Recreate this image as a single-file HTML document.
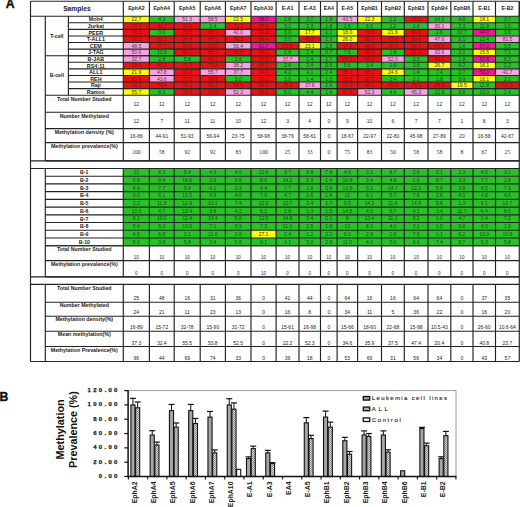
<!DOCTYPE html>
<html><head><meta charset="utf-8"><title>Figure</title>
<style>
html,body{margin:0;padding:0;background:#fff;}
body{width:520px;height:507px;overflow:hidden;font-family:"Liberation Sans", sans-serif;}
svg{display:block;}
</style></head>
<body>
<svg width="520" height="507" viewBox="0 0 520 507">
<rect x="0.00" y="0.00" width="520.00" height="507.00" fill="#ffffff" />
<text x="10.10" y="8.27" font-size="12.2" font-weight="bold" text-anchor="middle" fill="#111" font-family='"Liberation Sans", sans-serif' stroke="#111" stroke-width="0.4">A</text>
<rect x="123.30" y="16.20" width="26.10" height="6.58" fill="#fdfc12" />
<rect x="123.30" y="22.78" width="26.10" height="6.58" fill="#e61414" />
<rect x="123.30" y="29.37" width="26.10" height="6.58" fill="#e61414" />
<rect x="123.30" y="35.95" width="26.10" height="6.58" fill="#e61414" />
<rect x="123.30" y="42.53" width="26.10" height="6.58" fill="#f8a4e2" />
<rect x="123.30" y="49.12" width="26.10" height="6.58" fill="#f8a4e2" />
<rect x="123.30" y="55.70" width="26.10" height="6.58" fill="#f8a4e2" />
<rect x="123.30" y="62.28" width="26.10" height="6.58" fill="#e61414" />
<rect x="123.30" y="68.87" width="26.10" height="6.58" fill="#fdfc12" />
<rect x="123.30" y="75.45" width="26.10" height="6.58" fill="#e61414" />
<rect x="123.30" y="82.03" width="26.10" height="6.58" fill="#e61414" />
<rect x="123.30" y="88.62" width="26.10" height="6.58" fill="#fdfc12" />
<rect x="149.40" y="16.20" width="24.80" height="6.58" fill="#28c228" />
<rect x="149.40" y="22.78" width="24.80" height="6.58" fill="#e61414" />
<rect x="149.40" y="29.37" width="24.80" height="6.58" fill="#28c228" />
<rect x="149.40" y="35.95" width="24.80" height="6.58" fill="#e61414" />
<rect x="149.40" y="42.53" width="24.80" height="6.58" fill="#e61414" />
<rect x="149.40" y="49.12" width="24.80" height="6.58" fill="#28c228" />
<rect x="149.40" y="55.70" width="24.80" height="6.58" fill="#28c228" />
<rect x="149.40" y="62.28" width="24.80" height="6.58" fill="#e61414" />
<rect x="149.40" y="68.87" width="24.80" height="6.58" fill="#f8a4e2" />
<rect x="149.40" y="75.45" width="24.80" height="6.58" fill="#f8a4e2" />
<rect x="149.40" y="82.03" width="24.80" height="6.58" fill="#e61414" />
<rect x="149.40" y="88.62" width="24.80" height="6.58" fill="#28c228" />
<rect x="174.20" y="16.20" width="26.00" height="6.58" fill="#f8a4e2" />
<rect x="174.20" y="22.78" width="26.00" height="6.58" fill="#e61414" />
<rect x="174.20" y="29.37" width="26.00" height="6.58" fill="#e61414" />
<rect x="174.20" y="35.95" width="26.00" height="6.58" fill="#e61414" />
<rect x="174.20" y="42.53" width="26.00" height="6.58" fill="#e61414" />
<rect x="174.20" y="49.12" width="26.00" height="6.58" fill="#e61414" />
<rect x="174.20" y="55.70" width="26.00" height="6.58" fill="#28c228" />
<rect x="174.20" y="62.28" width="26.00" height="6.58" fill="#e61414" />
<rect x="174.20" y="68.87" width="26.00" height="6.58" fill="#e61414" />
<rect x="174.20" y="75.45" width="26.00" height="6.58" fill="#e61414" />
<rect x="174.20" y="82.03" width="26.00" height="6.58" fill="#e61414" />
<rect x="174.20" y="88.62" width="26.00" height="6.58" fill="#e61414" />
<rect x="200.20" y="16.20" width="25.20" height="6.58" fill="#f8a4e2" />
<rect x="200.20" y="22.78" width="25.20" height="6.58" fill="#28c228" />
<rect x="200.20" y="29.37" width="25.20" height="6.58" fill="#e61414" />
<rect x="200.20" y="35.95" width="25.20" height="6.58" fill="#e61414" />
<rect x="200.20" y="42.53" width="25.20" height="6.58" fill="#e61414" />
<rect x="200.20" y="49.12" width="25.20" height="6.58" fill="#e61414" />
<rect x="200.20" y="55.70" width="25.20" height="6.58" fill="#e61414" />
<rect x="200.20" y="62.28" width="25.20" height="6.58" fill="#e61414" />
<rect x="200.20" y="68.87" width="25.20" height="6.58" fill="#f8a4e2" />
<rect x="200.20" y="75.45" width="25.20" height="6.58" fill="#e61414" />
<rect x="200.20" y="82.03" width="25.20" height="6.58" fill="#e61414" />
<rect x="200.20" y="88.62" width="25.20" height="6.58" fill="#e61414" />
<rect x="225.40" y="16.20" width="25.60" height="6.58" fill="#fdfc12" />
<rect x="225.40" y="22.78" width="25.60" height="6.58" fill="#e61414" />
<rect x="225.40" y="29.37" width="25.60" height="6.58" fill="#f8a4e2" />
<rect x="225.40" y="35.95" width="25.60" height="6.58" fill="#e61414" />
<rect x="225.40" y="42.53" width="25.60" height="6.58" fill="#f8a4e2" />
<rect x="225.40" y="49.12" width="25.60" height="6.58" fill="#e61414" />
<rect x="225.40" y="55.70" width="25.60" height="6.58" fill="#28c228" />
<rect x="225.40" y="62.28" width="25.60" height="6.58" fill="#f8a4e2" />
<rect x="225.40" y="68.87" width="25.60" height="6.58" fill="#f8a4e2" />
<rect x="225.40" y="75.45" width="25.60" height="6.58" fill="#28c228" />
<rect x="225.40" y="82.03" width="25.60" height="6.58" fill="#e61414" />
<rect x="225.40" y="88.62" width="25.60" height="6.58" fill="#f8a4e2" />
<rect x="251.00" y="16.20" width="25.10" height="6.58" fill="#ee1898" />
<rect x="251.00" y="22.78" width="25.10" height="6.58" fill="#e61414" />
<rect x="251.00" y="29.37" width="25.10" height="6.58" fill="#e61414" />
<rect x="251.00" y="35.95" width="25.10" height="6.58" fill="#e61414" />
<rect x="251.00" y="42.53" width="25.10" height="6.58" fill="#ee1898" />
<rect x="251.00" y="49.12" width="25.10" height="6.58" fill="#e61414" />
<rect x="251.00" y="55.70" width="25.10" height="6.58" fill="#e61414" />
<rect x="251.00" y="62.28" width="25.10" height="6.58" fill="#e61414" />
<rect x="251.00" y="68.87" width="25.10" height="6.58" fill="#e61414" />
<rect x="251.00" y="75.45" width="25.10" height="6.58" fill="#e61414" />
<rect x="251.00" y="82.03" width="25.10" height="6.58" fill="#e61414" />
<rect x="251.00" y="88.62" width="25.10" height="6.58" fill="#e61414" />
<rect x="276.10" y="16.20" width="22.90" height="6.58" fill="#28c228" />
<rect x="276.10" y="22.78" width="22.90" height="6.58" fill="#28c228" />
<rect x="276.10" y="29.37" width="22.90" height="6.58" fill="#28c228" />
<rect x="276.10" y="35.95" width="22.90" height="6.58" fill="#28c228" />
<rect x="276.10" y="42.53" width="22.90" height="6.58" fill="#e61414" />
<rect x="276.10" y="49.12" width="22.90" height="6.58" fill="#28c228" />
<rect x="276.10" y="55.70" width="22.90" height="6.58" fill="#f8a4e2" />
<rect x="276.10" y="62.28" width="22.90" height="6.58" fill="#28c228" />
<rect x="276.10" y="68.87" width="22.90" height="6.58" fill="#28c228" />
<rect x="276.10" y="75.45" width="22.90" height="6.58" fill="#28c228" />
<rect x="276.10" y="82.03" width="22.90" height="6.58" fill="#e61414" />
<rect x="276.10" y="88.62" width="22.90" height="6.58" fill="#28c228" />
<rect x="299.00" y="16.20" width="21.50" height="6.58" fill="#28c228" />
<rect x="299.00" y="22.78" width="21.50" height="6.58" fill="#28c228" />
<rect x="299.00" y="29.37" width="21.50" height="6.58" fill="#fdfc12" />
<rect x="299.00" y="35.95" width="21.50" height="6.58" fill="#e61414" />
<rect x="299.00" y="42.53" width="21.50" height="6.58" fill="#fdfc12" />
<rect x="299.00" y="49.12" width="21.50" height="6.58" fill="#28c228" />
<rect x="299.00" y="55.70" width="21.50" height="6.58" fill="#28c228" />
<rect x="299.00" y="62.28" width="21.50" height="6.58" fill="#28c228" />
<rect x="299.00" y="68.87" width="21.50" height="6.58" fill="#28c228" />
<rect x="299.00" y="75.45" width="21.50" height="6.58" fill="#28c228" />
<rect x="299.00" y="82.03" width="21.50" height="6.58" fill="#f8a4e2" />
<rect x="299.00" y="88.62" width="21.50" height="6.58" fill="#28c228" />
<rect x="320.50" y="16.20" width="16.60" height="6.58" fill="#28c228" />
<rect x="320.50" y="22.78" width="16.60" height="6.58" fill="#28c228" />
<rect x="320.50" y="29.37" width="16.60" height="6.58" fill="#28c228" />
<rect x="320.50" y="35.95" width="16.60" height="6.58" fill="#28c228" />
<rect x="320.50" y="42.53" width="16.60" height="6.58" fill="#28c228" />
<rect x="320.50" y="49.12" width="16.60" height="6.58" fill="#28c228" />
<rect x="320.50" y="55.70" width="16.60" height="6.58" fill="#28c228" />
<rect x="320.50" y="62.28" width="16.60" height="6.58" fill="#28c228" />
<rect x="320.50" y="68.87" width="16.60" height="6.58" fill="#28c228" />
<rect x="320.50" y="75.45" width="16.60" height="6.58" fill="#28c228" />
<rect x="320.50" y="82.03" width="16.60" height="6.58" fill="#28c228" />
<rect x="320.50" y="88.62" width="16.60" height="6.58" fill="#28c228" />
<rect x="337.10" y="16.20" width="20.50" height="6.58" fill="#f8a4e2" />
<rect x="337.10" y="22.78" width="20.50" height="6.58" fill="#28c228" />
<rect x="337.10" y="29.37" width="20.50" height="6.58" fill="#fdfc12" />
<rect x="337.10" y="35.95" width="20.50" height="6.58" fill="#fdfc12" />
<rect x="337.10" y="42.53" width="20.50" height="6.58" fill="#e61414" />
<rect x="337.10" y="49.12" width="20.50" height="6.58" fill="#28c228" />
<rect x="337.10" y="55.70" width="20.50" height="6.58" fill="#e61414" />
<rect x="337.10" y="62.28" width="20.50" height="6.58" fill="#28c228" />
<rect x="337.10" y="68.87" width="20.50" height="6.58" fill="#e61414" />
<rect x="337.10" y="75.45" width="20.50" height="6.58" fill="#e61414" />
<rect x="337.10" y="82.03" width="20.50" height="6.58" fill="#e61414" />
<rect x="337.10" y="88.62" width="20.50" height="6.58" fill="#e61414" />
<rect x="357.60" y="16.20" width="23.90" height="6.58" fill="#fdfc12" />
<rect x="357.60" y="22.78" width="23.90" height="6.58" fill="#28c228" />
<rect x="357.60" y="29.37" width="23.90" height="6.58" fill="#e61414" />
<rect x="357.60" y="35.95" width="23.90" height="6.58" fill="#e61414" />
<rect x="357.60" y="42.53" width="23.90" height="6.58" fill="#e61414" />
<rect x="357.60" y="49.12" width="23.90" height="6.58" fill="#e61414" />
<rect x="357.60" y="55.70" width="23.90" height="6.58" fill="#e61414" />
<rect x="357.60" y="62.28" width="23.90" height="6.58" fill="#28c228" />
<rect x="357.60" y="68.87" width="23.90" height="6.58" fill="#e61414" />
<rect x="357.60" y="75.45" width="23.90" height="6.58" fill="#e61414" />
<rect x="357.60" y="82.03" width="23.90" height="6.58" fill="#e61414" />
<rect x="357.60" y="88.62" width="23.90" height="6.58" fill="#f8a4e2" />
<rect x="381.50" y="16.20" width="22.80" height="6.58" fill="#28c228" />
<rect x="381.50" y="22.78" width="22.80" height="6.58" fill="#28c228" />
<rect x="381.50" y="29.37" width="22.80" height="6.58" fill="#fdfc12" />
<rect x="381.50" y="35.95" width="22.80" height="6.58" fill="#e61414" />
<rect x="381.50" y="42.53" width="22.80" height="6.58" fill="#e61414" />
<rect x="381.50" y="49.12" width="22.80" height="6.58" fill="#28c228" />
<rect x="381.50" y="55.70" width="22.80" height="6.58" fill="#f8a4e2" />
<rect x="381.50" y="62.28" width="22.80" height="6.58" fill="#28c228" />
<rect x="381.50" y="68.87" width="22.80" height="6.58" fill="#fdfc12" />
<rect x="381.50" y="75.45" width="22.80" height="6.58" fill="#28c228" />
<rect x="381.50" y="82.03" width="22.80" height="6.58" fill="#e61414" />
<rect x="381.50" y="88.62" width="22.80" height="6.58" fill="#28c228" />
<rect x="404.30" y="16.20" width="23.70" height="6.58" fill="#e61414" />
<rect x="404.30" y="22.78" width="23.70" height="6.58" fill="#28c228" />
<rect x="404.30" y="29.37" width="23.70" height="6.58" fill="#e61414" />
<rect x="404.30" y="35.95" width="23.70" height="6.58" fill="#e61414" />
<rect x="404.30" y="42.53" width="23.70" height="6.58" fill="#e61414" />
<rect x="404.30" y="49.12" width="23.70" height="6.58" fill="#e61414" />
<rect x="404.30" y="55.70" width="23.70" height="6.58" fill="#28c228" />
<rect x="404.30" y="62.28" width="23.70" height="6.58" fill="#28c228" />
<rect x="404.30" y="68.87" width="23.70" height="6.58" fill="#28c228" />
<rect x="404.30" y="75.45" width="23.70" height="6.58" fill="#28c228" />
<rect x="404.30" y="82.03" width="23.70" height="6.58" fill="#e61414" />
<rect x="404.30" y="88.62" width="23.70" height="6.58" fill="#f8a4e2" />
<rect x="428.00" y="16.20" width="22.80" height="6.58" fill="#28c228" />
<rect x="428.00" y="22.78" width="22.80" height="6.58" fill="#f8a4e2" />
<rect x="428.00" y="29.37" width="22.80" height="6.58" fill="#28c228" />
<rect x="428.00" y="35.95" width="22.80" height="6.58" fill="#f8a4e2" />
<rect x="428.00" y="42.53" width="22.80" height="6.58" fill="#e61414" />
<rect x="428.00" y="49.12" width="22.80" height="6.58" fill="#f8a4e2" />
<rect x="428.00" y="55.70" width="22.80" height="6.58" fill="#e61414" />
<rect x="428.00" y="62.28" width="22.80" height="6.58" fill="#fdfc12" />
<rect x="428.00" y="68.87" width="22.80" height="6.58" fill="#28c228" />
<rect x="428.00" y="75.45" width="22.80" height="6.58" fill="#28c228" />
<rect x="428.00" y="82.03" width="22.80" height="6.58" fill="#e61414" />
<rect x="428.00" y="88.62" width="22.80" height="6.58" fill="#28c228" />
<rect x="450.80" y="16.20" width="22.20" height="6.58" fill="#28c228" />
<rect x="450.80" y="22.78" width="22.20" height="6.58" fill="#28c228" />
<rect x="450.80" y="29.37" width="22.20" height="6.58" fill="#28c228" />
<rect x="450.80" y="35.95" width="22.20" height="6.58" fill="#28c228" />
<rect x="450.80" y="42.53" width="22.20" height="6.58" fill="#28c228" />
<rect x="450.80" y="49.12" width="22.20" height="6.58" fill="#28c228" />
<rect x="450.80" y="55.70" width="22.20" height="6.58" fill="#28c228" />
<rect x="450.80" y="62.28" width="22.20" height="6.58" fill="#28c228" />
<rect x="450.80" y="68.87" width="22.20" height="6.58" fill="#28c228" />
<rect x="450.80" y="75.45" width="22.20" height="6.58" fill="#28c228" />
<rect x="450.80" y="82.03" width="22.20" height="6.58" fill="#fdfc12" />
<rect x="450.80" y="88.62" width="22.20" height="6.58" fill="#28c228" />
<rect x="473.00" y="16.20" width="22.50" height="6.58" fill="#fdfc12" />
<rect x="473.00" y="22.78" width="22.50" height="6.58" fill="#28c228" />
<rect x="473.00" y="29.37" width="22.50" height="6.58" fill="#ee1898" />
<rect x="473.00" y="35.95" width="22.50" height="6.58" fill="#28c228" />
<rect x="473.00" y="42.53" width="22.50" height="6.58" fill="#ee1898" />
<rect x="473.00" y="49.12" width="22.50" height="6.58" fill="#fdfc12" />
<rect x="473.00" y="55.70" width="22.50" height="6.58" fill="#ee1898" />
<rect x="473.00" y="62.28" width="22.50" height="6.58" fill="#fdfc12" />
<rect x="473.00" y="68.87" width="22.50" height="6.58" fill="#ee1898" />
<rect x="473.00" y="75.45" width="22.50" height="6.58" fill="#fdfc12" />
<rect x="473.00" y="82.03" width="22.50" height="6.58" fill="#28c228" />
<rect x="473.00" y="88.62" width="22.50" height="6.58" fill="#28c228" />
<rect x="495.50" y="16.20" width="23.80" height="6.58" fill="#28c228" />
<rect x="495.50" y="22.78" width="23.80" height="6.58" fill="#28c228" />
<rect x="495.50" y="29.37" width="23.80" height="6.58" fill="#28c228" />
<rect x="495.50" y="35.95" width="23.80" height="6.58" fill="#f8a4e2" />
<rect x="495.50" y="42.53" width="23.80" height="6.58" fill="#28c228" />
<rect x="495.50" y="49.12" width="23.80" height="6.58" fill="#28c228" />
<rect x="495.50" y="55.70" width="23.80" height="6.58" fill="#28c228" />
<rect x="495.50" y="62.28" width="23.80" height="6.58" fill="#28c228" />
<rect x="495.50" y="68.87" width="23.80" height="6.58" fill="#f8a4e2" />
<rect x="495.50" y="75.45" width="23.80" height="6.58" fill="#28c228" />
<rect x="495.50" y="82.03" width="23.80" height="6.58" fill="#e61414" />
<rect x="495.50" y="88.62" width="23.80" height="6.58" fill="#28c228" />
<rect x="123.30" y="168.50" width="26.10" height="7.72" fill="#28c228" />
<rect x="123.30" y="176.22" width="26.10" height="7.72" fill="#28c228" />
<rect x="123.30" y="183.94" width="26.10" height="7.72" fill="#28c228" />
<rect x="123.30" y="191.66" width="26.10" height="7.72" fill="#28c228" />
<rect x="123.30" y="199.38" width="26.10" height="7.72" fill="#28c228" />
<rect x="123.30" y="207.10" width="26.10" height="7.72" fill="#28c228" />
<rect x="123.30" y="214.82" width="26.10" height="7.72" fill="#28c228" />
<rect x="123.30" y="222.54" width="26.10" height="7.72" fill="#28c228" />
<rect x="123.30" y="230.26" width="26.10" height="7.72" fill="#28c228" />
<rect x="123.30" y="237.98" width="26.10" height="7.72" fill="#28c228" />
<rect x="149.40" y="168.50" width="24.80" height="7.72" fill="#28c228" />
<rect x="149.40" y="176.22" width="24.80" height="7.72" fill="#28c228" />
<rect x="149.40" y="183.94" width="24.80" height="7.72" fill="#28c228" />
<rect x="149.40" y="191.66" width="24.80" height="7.72" fill="#28c228" />
<rect x="149.40" y="199.38" width="24.80" height="7.72" fill="#28c228" />
<rect x="149.40" y="207.10" width="24.80" height="7.72" fill="#28c228" />
<rect x="149.40" y="214.82" width="24.80" height="7.72" fill="#28c228" />
<rect x="149.40" y="222.54" width="24.80" height="7.72" fill="#28c228" />
<rect x="149.40" y="230.26" width="24.80" height="7.72" fill="#28c228" />
<rect x="149.40" y="237.98" width="24.80" height="7.72" fill="#28c228" />
<rect x="174.20" y="168.50" width="26.00" height="7.72" fill="#28c228" />
<rect x="174.20" y="176.22" width="26.00" height="7.72" fill="#28c228" />
<rect x="174.20" y="183.94" width="26.00" height="7.72" fill="#28c228" />
<rect x="174.20" y="191.66" width="26.00" height="7.72" fill="#28c228" />
<rect x="174.20" y="199.38" width="26.00" height="7.72" fill="#28c228" />
<rect x="174.20" y="207.10" width="26.00" height="7.72" fill="#28c228" />
<rect x="174.20" y="214.82" width="26.00" height="7.72" fill="#28c228" />
<rect x="174.20" y="222.54" width="26.00" height="7.72" fill="#28c228" />
<rect x="174.20" y="230.26" width="26.00" height="7.72" fill="#28c228" />
<rect x="174.20" y="237.98" width="26.00" height="7.72" fill="#28c228" />
<rect x="200.20" y="168.50" width="25.20" height="7.72" fill="#28c228" />
<rect x="200.20" y="176.22" width="25.20" height="7.72" fill="#28c228" />
<rect x="200.20" y="183.94" width="25.20" height="7.72" fill="#28c228" />
<rect x="200.20" y="191.66" width="25.20" height="7.72" fill="#28c228" />
<rect x="200.20" y="199.38" width="25.20" height="7.72" fill="#28c228" />
<rect x="200.20" y="207.10" width="25.20" height="7.72" fill="#28c228" />
<rect x="200.20" y="214.82" width="25.20" height="7.72" fill="#28c228" />
<rect x="200.20" y="222.54" width="25.20" height="7.72" fill="#28c228" />
<rect x="200.20" y="230.26" width="25.20" height="7.72" fill="#28c228" />
<rect x="200.20" y="237.98" width="25.20" height="7.72" fill="#28c228" />
<rect x="225.40" y="168.50" width="25.60" height="7.72" fill="#28c228" />
<rect x="225.40" y="176.22" width="25.60" height="7.72" fill="#28c228" />
<rect x="225.40" y="183.94" width="25.60" height="7.72" fill="#28c228" />
<rect x="225.40" y="191.66" width="25.60" height="7.72" fill="#28c228" />
<rect x="225.40" y="199.38" width="25.60" height="7.72" fill="#28c228" />
<rect x="225.40" y="207.10" width="25.60" height="7.72" fill="#28c228" />
<rect x="225.40" y="214.82" width="25.60" height="7.72" fill="#28c228" />
<rect x="225.40" y="222.54" width="25.60" height="7.72" fill="#28c228" />
<rect x="225.40" y="230.26" width="25.60" height="7.72" fill="#28c228" />
<rect x="225.40" y="237.98" width="25.60" height="7.72" fill="#28c228" />
<rect x="251.00" y="168.50" width="25.10" height="7.72" fill="#28c228" />
<rect x="251.00" y="176.22" width="25.10" height="7.72" fill="#28c228" />
<rect x="251.00" y="183.94" width="25.10" height="7.72" fill="#28c228" />
<rect x="251.00" y="191.66" width="25.10" height="7.72" fill="#28c228" />
<rect x="251.00" y="199.38" width="25.10" height="7.72" fill="#28c228" />
<rect x="251.00" y="207.10" width="25.10" height="7.72" fill="#28c228" />
<rect x="251.00" y="214.82" width="25.10" height="7.72" fill="#28c228" />
<rect x="251.00" y="222.54" width="25.10" height="7.72" fill="#28c228" />
<rect x="251.00" y="230.26" width="25.10" height="7.72" fill="#fdfc12" />
<rect x="251.00" y="237.98" width="25.10" height="7.72" fill="#28c228" />
<rect x="276.10" y="168.50" width="22.90" height="7.72" fill="#28c228" />
<rect x="276.10" y="176.22" width="22.90" height="7.72" fill="#28c228" />
<rect x="276.10" y="183.94" width="22.90" height="7.72" fill="#28c228" />
<rect x="276.10" y="191.66" width="22.90" height="7.72" fill="#28c228" />
<rect x="276.10" y="199.38" width="22.90" height="7.72" fill="#28c228" />
<rect x="276.10" y="207.10" width="22.90" height="7.72" fill="#28c228" />
<rect x="276.10" y="214.82" width="22.90" height="7.72" fill="#28c228" />
<rect x="276.10" y="222.54" width="22.90" height="7.72" fill="#28c228" />
<rect x="276.10" y="230.26" width="22.90" height="7.72" fill="#28c228" />
<rect x="276.10" y="237.98" width="22.90" height="7.72" fill="#28c228" />
<rect x="299.00" y="168.50" width="21.50" height="7.72" fill="#28c228" />
<rect x="299.00" y="176.22" width="21.50" height="7.72" fill="#28c228" />
<rect x="299.00" y="183.94" width="21.50" height="7.72" fill="#28c228" />
<rect x="299.00" y="191.66" width="21.50" height="7.72" fill="#28c228" />
<rect x="299.00" y="199.38" width="21.50" height="7.72" fill="#28c228" />
<rect x="299.00" y="207.10" width="21.50" height="7.72" fill="#28c228" />
<rect x="299.00" y="214.82" width="21.50" height="7.72" fill="#28c228" />
<rect x="299.00" y="222.54" width="21.50" height="7.72" fill="#28c228" />
<rect x="299.00" y="230.26" width="21.50" height="7.72" fill="#28c228" />
<rect x="299.00" y="237.98" width="21.50" height="7.72" fill="#28c228" />
<rect x="320.50" y="168.50" width="16.60" height="7.72" fill="#28c228" />
<rect x="320.50" y="176.22" width="16.60" height="7.72" fill="#28c228" />
<rect x="320.50" y="183.94" width="16.60" height="7.72" fill="#28c228" />
<rect x="320.50" y="191.66" width="16.60" height="7.72" fill="#28c228" />
<rect x="320.50" y="199.38" width="16.60" height="7.72" fill="#28c228" />
<rect x="320.50" y="207.10" width="16.60" height="7.72" fill="#28c228" />
<rect x="320.50" y="214.82" width="16.60" height="7.72" fill="#28c228" />
<rect x="320.50" y="222.54" width="16.60" height="7.72" fill="#28c228" />
<rect x="320.50" y="230.26" width="16.60" height="7.72" fill="#28c228" />
<rect x="320.50" y="237.98" width="16.60" height="7.72" fill="#28c228" />
<rect x="337.10" y="168.50" width="20.50" height="7.72" fill="#28c228" />
<rect x="337.10" y="176.22" width="20.50" height="7.72" fill="#28c228" />
<rect x="337.10" y="183.94" width="20.50" height="7.72" fill="#28c228" />
<rect x="337.10" y="191.66" width="20.50" height="7.72" fill="#28c228" />
<rect x="337.10" y="199.38" width="20.50" height="7.72" fill="#28c228" />
<rect x="337.10" y="207.10" width="20.50" height="7.72" fill="#28c228" />
<rect x="337.10" y="214.82" width="20.50" height="7.72" fill="#28c228" />
<rect x="337.10" y="222.54" width="20.50" height="7.72" fill="#28c228" />
<rect x="337.10" y="230.26" width="20.50" height="7.72" fill="#28c228" />
<rect x="337.10" y="237.98" width="20.50" height="7.72" fill="#28c228" />
<rect x="357.60" y="168.50" width="23.90" height="7.72" fill="#28c228" />
<rect x="357.60" y="176.22" width="23.90" height="7.72" fill="#28c228" />
<rect x="357.60" y="183.94" width="23.90" height="7.72" fill="#28c228" />
<rect x="357.60" y="191.66" width="23.90" height="7.72" fill="#28c228" />
<rect x="357.60" y="199.38" width="23.90" height="7.72" fill="#28c228" />
<rect x="357.60" y="207.10" width="23.90" height="7.72" fill="#28c228" />
<rect x="357.60" y="214.82" width="23.90" height="7.72" fill="#28c228" />
<rect x="357.60" y="222.54" width="23.90" height="7.72" fill="#28c228" />
<rect x="357.60" y="230.26" width="23.90" height="7.72" fill="#28c228" />
<rect x="357.60" y="237.98" width="23.90" height="7.72" fill="#28c228" />
<rect x="381.50" y="168.50" width="22.80" height="7.72" fill="#28c228" />
<rect x="381.50" y="176.22" width="22.80" height="7.72" fill="#28c228" />
<rect x="381.50" y="183.94" width="22.80" height="7.72" fill="#28c228" />
<rect x="381.50" y="191.66" width="22.80" height="7.72" fill="#28c228" />
<rect x="381.50" y="199.38" width="22.80" height="7.72" fill="#28c228" />
<rect x="381.50" y="207.10" width="22.80" height="7.72" fill="#28c228" />
<rect x="381.50" y="214.82" width="22.80" height="7.72" fill="#28c228" />
<rect x="381.50" y="222.54" width="22.80" height="7.72" fill="#28c228" />
<rect x="381.50" y="230.26" width="22.80" height="7.72" fill="#28c228" />
<rect x="381.50" y="237.98" width="22.80" height="7.72" fill="#28c228" />
<rect x="404.30" y="168.50" width="23.70" height="7.72" fill="#28c228" />
<rect x="404.30" y="176.22" width="23.70" height="7.72" fill="#28c228" />
<rect x="404.30" y="183.94" width="23.70" height="7.72" fill="#28c228" />
<rect x="404.30" y="191.66" width="23.70" height="7.72" fill="#28c228" />
<rect x="404.30" y="199.38" width="23.70" height="7.72" fill="#28c228" />
<rect x="404.30" y="207.10" width="23.70" height="7.72" fill="#28c228" />
<rect x="404.30" y="214.82" width="23.70" height="7.72" fill="#28c228" />
<rect x="404.30" y="222.54" width="23.70" height="7.72" fill="#28c228" />
<rect x="404.30" y="230.26" width="23.70" height="7.72" fill="#28c228" />
<rect x="404.30" y="237.98" width="23.70" height="7.72" fill="#28c228" />
<rect x="428.00" y="168.50" width="22.80" height="7.72" fill="#28c228" />
<rect x="428.00" y="176.22" width="22.80" height="7.72" fill="#28c228" />
<rect x="428.00" y="183.94" width="22.80" height="7.72" fill="#28c228" />
<rect x="428.00" y="191.66" width="22.80" height="7.72" fill="#28c228" />
<rect x="428.00" y="199.38" width="22.80" height="7.72" fill="#28c228" />
<rect x="428.00" y="207.10" width="22.80" height="7.72" fill="#28c228" />
<rect x="428.00" y="214.82" width="22.80" height="7.72" fill="#28c228" />
<rect x="428.00" y="222.54" width="22.80" height="7.72" fill="#28c228" />
<rect x="428.00" y="230.26" width="22.80" height="7.72" fill="#28c228" />
<rect x="428.00" y="237.98" width="22.80" height="7.72" fill="#28c228" />
<rect x="450.80" y="168.50" width="22.20" height="7.72" fill="#28c228" />
<rect x="450.80" y="176.22" width="22.20" height="7.72" fill="#28c228" />
<rect x="450.80" y="183.94" width="22.20" height="7.72" fill="#28c228" />
<rect x="450.80" y="191.66" width="22.20" height="7.72" fill="#28c228" />
<rect x="450.80" y="199.38" width="22.20" height="7.72" fill="#28c228" />
<rect x="450.80" y="207.10" width="22.20" height="7.72" fill="#28c228" />
<rect x="450.80" y="214.82" width="22.20" height="7.72" fill="#28c228" />
<rect x="450.80" y="222.54" width="22.20" height="7.72" fill="#28c228" />
<rect x="450.80" y="230.26" width="22.20" height="7.72" fill="#28c228" />
<rect x="450.80" y="237.98" width="22.20" height="7.72" fill="#28c228" />
<rect x="473.00" y="168.50" width="22.50" height="7.72" fill="#28c228" />
<rect x="473.00" y="176.22" width="22.50" height="7.72" fill="#28c228" />
<rect x="473.00" y="183.94" width="22.50" height="7.72" fill="#28c228" />
<rect x="473.00" y="191.66" width="22.50" height="7.72" fill="#28c228" />
<rect x="473.00" y="199.38" width="22.50" height="7.72" fill="#28c228" />
<rect x="473.00" y="207.10" width="22.50" height="7.72" fill="#28c228" />
<rect x="473.00" y="214.82" width="22.50" height="7.72" fill="#28c228" />
<rect x="473.00" y="222.54" width="22.50" height="7.72" fill="#28c228" />
<rect x="473.00" y="230.26" width="22.50" height="7.72" fill="#28c228" />
<rect x="473.00" y="237.98" width="22.50" height="7.72" fill="#28c228" />
<rect x="495.50" y="168.50" width="23.80" height="7.72" fill="#28c228" />
<rect x="495.50" y="176.22" width="23.80" height="7.72" fill="#28c228" />
<rect x="495.50" y="183.94" width="23.80" height="7.72" fill="#28c228" />
<rect x="495.50" y="191.66" width="23.80" height="7.72" fill="#28c228" />
<rect x="495.50" y="199.38" width="23.80" height="7.72" fill="#28c228" />
<rect x="495.50" y="207.10" width="23.80" height="7.72" fill="#28c228" />
<rect x="495.50" y="214.82" width="23.80" height="7.72" fill="#28c228" />
<rect x="495.50" y="222.54" width="23.80" height="7.72" fill="#28c228" />
<rect x="495.50" y="230.26" width="23.80" height="7.72" fill="#28c228" />
<rect x="495.50" y="237.98" width="23.80" height="7.72" fill="#28c228" />
<line x1="30.50" y1="1.20" x2="519.30" y2="1.20" stroke="#222222" stroke-width="1.15"/>
<line x1="30.50" y1="1.20" x2="30.50" y2="361.50" stroke="#222222" stroke-width="1.15"/>
<line x1="519.30" y1="1.20" x2="519.30" y2="361.50" stroke="#222222" stroke-width="1.15"/>
<line x1="30.50" y1="361.50" x2="519.30" y2="361.50" stroke="#222222" stroke-width="1.15"/>
<line x1="30.50" y1="16.20" x2="519.30" y2="16.20" stroke="#222222" stroke-width="1.15"/>
<line x1="123.30" y1="1.20" x2="123.30" y2="16.20" stroke="#222222" stroke-width="1.15"/>
<line x1="149.40" y1="1.20" x2="149.40" y2="16.20" stroke="#222222" stroke-width="1.15"/>
<line x1="174.20" y1="1.20" x2="174.20" y2="16.20" stroke="#222222" stroke-width="1.15"/>
<line x1="200.20" y1="1.20" x2="200.20" y2="16.20" stroke="#222222" stroke-width="1.15"/>
<line x1="225.40" y1="1.20" x2="225.40" y2="16.20" stroke="#222222" stroke-width="1.15"/>
<line x1="251.00" y1="1.20" x2="251.00" y2="16.20" stroke="#222222" stroke-width="1.15"/>
<line x1="276.10" y1="1.20" x2="276.10" y2="16.20" stroke="#222222" stroke-width="1.15"/>
<line x1="299.00" y1="1.20" x2="299.00" y2="16.20" stroke="#222222" stroke-width="1.15"/>
<line x1="320.50" y1="1.20" x2="320.50" y2="16.20" stroke="#222222" stroke-width="1.15"/>
<line x1="337.10" y1="1.20" x2="337.10" y2="16.20" stroke="#222222" stroke-width="1.15"/>
<line x1="357.60" y1="1.20" x2="357.60" y2="16.20" stroke="#222222" stroke-width="1.15"/>
<line x1="381.50" y1="1.20" x2="381.50" y2="16.20" stroke="#222222" stroke-width="1.15"/>
<line x1="404.30" y1="1.20" x2="404.30" y2="16.20" stroke="#222222" stroke-width="1.15"/>
<line x1="428.00" y1="1.20" x2="428.00" y2="16.20" stroke="#222222" stroke-width="1.15"/>
<line x1="450.80" y1="1.20" x2="450.80" y2="16.20" stroke="#222222" stroke-width="1.15"/>
<line x1="473.00" y1="1.20" x2="473.00" y2="16.20" stroke="#222222" stroke-width="1.15"/>
<line x1="495.50" y1="1.20" x2="495.50" y2="16.20" stroke="#222222" stroke-width="1.15"/>
<line x1="519.30" y1="1.20" x2="519.30" y2="16.20" stroke="#222222" stroke-width="1.15"/>
<line x1="45.30" y1="16.20" x2="45.30" y2="160.80" stroke="#222222" stroke-width="1.15"/>
<line x1="68.40" y1="16.20" x2="68.40" y2="95.20" stroke="#222222" stroke-width="1.15"/>
<line x1="123.30" y1="16.20" x2="123.30" y2="160.80" stroke="#222222" stroke-width="1.15"/>
<line x1="149.40" y1="16.20" x2="149.40" y2="160.80" stroke="#222222" stroke-width="1.15"/>
<line x1="174.20" y1="16.20" x2="174.20" y2="160.80" stroke="#222222" stroke-width="1.15"/>
<line x1="200.20" y1="16.20" x2="200.20" y2="160.80" stroke="#222222" stroke-width="1.15"/>
<line x1="225.40" y1="16.20" x2="225.40" y2="160.80" stroke="#222222" stroke-width="1.15"/>
<line x1="251.00" y1="16.20" x2="251.00" y2="160.80" stroke="#222222" stroke-width="1.15"/>
<line x1="276.10" y1="16.20" x2="276.10" y2="160.80" stroke="#222222" stroke-width="1.15"/>
<line x1="299.00" y1="16.20" x2="299.00" y2="160.80" stroke="#222222" stroke-width="1.15"/>
<line x1="320.50" y1="16.20" x2="320.50" y2="160.80" stroke="#222222" stroke-width="1.15"/>
<line x1="337.10" y1="16.20" x2="337.10" y2="160.80" stroke="#222222" stroke-width="1.15"/>
<line x1="357.60" y1="16.20" x2="357.60" y2="160.80" stroke="#222222" stroke-width="1.15"/>
<line x1="381.50" y1="16.20" x2="381.50" y2="160.80" stroke="#222222" stroke-width="1.15"/>
<line x1="404.30" y1="16.20" x2="404.30" y2="160.80" stroke="#222222" stroke-width="1.15"/>
<line x1="428.00" y1="16.20" x2="428.00" y2="160.80" stroke="#222222" stroke-width="1.15"/>
<line x1="450.80" y1="16.20" x2="450.80" y2="160.80" stroke="#222222" stroke-width="1.15"/>
<line x1="473.00" y1="16.20" x2="473.00" y2="160.80" stroke="#222222" stroke-width="1.15"/>
<line x1="495.50" y1="16.20" x2="495.50" y2="160.80" stroke="#222222" stroke-width="1.15"/>
<line x1="68.40" y1="22.78" x2="519.30" y2="22.78" stroke="#222222" stroke-width="1.15"/>
<line x1="68.40" y1="29.37" x2="519.30" y2="29.37" stroke="#222222" stroke-width="1.15"/>
<line x1="68.40" y1="35.95" x2="519.30" y2="35.95" stroke="#222222" stroke-width="1.15"/>
<line x1="68.40" y1="42.53" x2="519.30" y2="42.53" stroke="#222222" stroke-width="1.15"/>
<line x1="68.40" y1="49.12" x2="519.30" y2="49.12" stroke="#222222" stroke-width="1.15"/>
<line x1="68.40" y1="55.70" x2="519.30" y2="55.70" stroke="#222222" stroke-width="1.15"/>
<line x1="68.40" y1="62.28" x2="519.30" y2="62.28" stroke="#222222" stroke-width="1.15"/>
<line x1="68.40" y1="68.87" x2="519.30" y2="68.87" stroke="#222222" stroke-width="1.15"/>
<line x1="68.40" y1="75.45" x2="519.30" y2="75.45" stroke="#222222" stroke-width="1.15"/>
<line x1="68.40" y1="82.03" x2="519.30" y2="82.03" stroke="#222222" stroke-width="1.15"/>
<line x1="68.40" y1="88.62" x2="519.30" y2="88.62" stroke="#222222" stroke-width="1.15"/>
<line x1="45.30" y1="55.70" x2="519.30" y2="55.70" stroke="#222222" stroke-width="1.15"/>
<line x1="45.30" y1="95.20" x2="519.30" y2="95.20" stroke="#222222" stroke-width="1.15"/>
<line x1="45.30" y1="112.20" x2="519.30" y2="112.20" stroke="#222222" stroke-width="1.15"/>
<line x1="45.30" y1="128.60" x2="519.30" y2="128.60" stroke="#222222" stroke-width="1.15"/>
<line x1="45.30" y1="142.60" x2="519.30" y2="142.60" stroke="#222222" stroke-width="1.15"/>
<line x1="45.30" y1="160.80" x2="519.30" y2="160.80" stroke="#222222" stroke-width="1.15"/>
<line x1="30.50" y1="160.80" x2="519.30" y2="160.80" stroke="#222222" stroke-width="1.15"/>
<line x1="30.50" y1="168.50" x2="519.30" y2="168.50" stroke="#222222" stroke-width="1.15"/>
<line x1="45.30" y1="168.50" x2="45.30" y2="276.80" stroke="#222222" stroke-width="1.15"/>
<line x1="123.30" y1="168.50" x2="123.30" y2="276.80" stroke="#222222" stroke-width="1.15"/>
<line x1="149.40" y1="168.50" x2="149.40" y2="276.80" stroke="#222222" stroke-width="1.15"/>
<line x1="174.20" y1="168.50" x2="174.20" y2="276.80" stroke="#222222" stroke-width="1.15"/>
<line x1="200.20" y1="168.50" x2="200.20" y2="276.80" stroke="#222222" stroke-width="1.15"/>
<line x1="225.40" y1="168.50" x2="225.40" y2="276.80" stroke="#222222" stroke-width="1.15"/>
<line x1="251.00" y1="168.50" x2="251.00" y2="276.80" stroke="#222222" stroke-width="1.15"/>
<line x1="276.10" y1="168.50" x2="276.10" y2="276.80" stroke="#222222" stroke-width="1.15"/>
<line x1="299.00" y1="168.50" x2="299.00" y2="276.80" stroke="#222222" stroke-width="1.15"/>
<line x1="320.50" y1="168.50" x2="320.50" y2="276.80" stroke="#222222" stroke-width="1.15"/>
<line x1="337.10" y1="168.50" x2="337.10" y2="276.80" stroke="#222222" stroke-width="1.15"/>
<line x1="357.60" y1="168.50" x2="357.60" y2="276.80" stroke="#222222" stroke-width="1.15"/>
<line x1="381.50" y1="168.50" x2="381.50" y2="276.80" stroke="#222222" stroke-width="1.15"/>
<line x1="404.30" y1="168.50" x2="404.30" y2="276.80" stroke="#222222" stroke-width="1.15"/>
<line x1="428.00" y1="168.50" x2="428.00" y2="276.80" stroke="#222222" stroke-width="1.15"/>
<line x1="450.80" y1="168.50" x2="450.80" y2="276.80" stroke="#222222" stroke-width="1.15"/>
<line x1="473.00" y1="168.50" x2="473.00" y2="276.80" stroke="#222222" stroke-width="1.15"/>
<line x1="495.50" y1="168.50" x2="495.50" y2="276.80" stroke="#222222" stroke-width="1.15"/>
<line x1="45.30" y1="176.22" x2="519.30" y2="176.22" stroke="#222222" stroke-width="1.15"/>
<line x1="45.30" y1="183.94" x2="519.30" y2="183.94" stroke="#222222" stroke-width="1.15"/>
<line x1="45.30" y1="191.66" x2="519.30" y2="191.66" stroke="#222222" stroke-width="1.15"/>
<line x1="45.30" y1="199.38" x2="519.30" y2="199.38" stroke="#222222" stroke-width="1.15"/>
<line x1="45.30" y1="207.10" x2="519.30" y2="207.10" stroke="#222222" stroke-width="1.15"/>
<line x1="45.30" y1="214.82" x2="519.30" y2="214.82" stroke="#222222" stroke-width="1.15"/>
<line x1="45.30" y1="222.54" x2="519.30" y2="222.54" stroke="#222222" stroke-width="1.15"/>
<line x1="45.30" y1="230.26" x2="519.30" y2="230.26" stroke="#222222" stroke-width="1.15"/>
<line x1="45.30" y1="237.98" x2="519.30" y2="237.98" stroke="#222222" stroke-width="1.15"/>
<line x1="45.30" y1="245.70" x2="519.30" y2="245.70" stroke="#222222" stroke-width="1.15"/>
<line x1="45.30" y1="245.70" x2="519.30" y2="245.70" stroke="#222222" stroke-width="1.15"/>
<line x1="45.30" y1="260.60" x2="519.30" y2="260.60" stroke="#222222" stroke-width="1.15"/>
<line x1="45.30" y1="276.80" x2="519.30" y2="276.80" stroke="#222222" stroke-width="1.15"/>
<line x1="30.50" y1="276.80" x2="519.30" y2="276.80" stroke="#222222" stroke-width="1.15"/>
<line x1="30.50" y1="284.40" x2="519.30" y2="284.40" stroke="#222222" stroke-width="1.15"/>
<line x1="45.30" y1="284.40" x2="45.30" y2="361.50" stroke="#222222" stroke-width="1.15"/>
<line x1="123.30" y1="284.40" x2="123.30" y2="361.50" stroke="#222222" stroke-width="1.15"/>
<line x1="149.40" y1="284.40" x2="149.40" y2="361.50" stroke="#222222" stroke-width="1.15"/>
<line x1="174.20" y1="284.40" x2="174.20" y2="361.50" stroke="#222222" stroke-width="1.15"/>
<line x1="200.20" y1="284.40" x2="200.20" y2="361.50" stroke="#222222" stroke-width="1.15"/>
<line x1="225.40" y1="284.40" x2="225.40" y2="361.50" stroke="#222222" stroke-width="1.15"/>
<line x1="251.00" y1="284.40" x2="251.00" y2="361.50" stroke="#222222" stroke-width="1.15"/>
<line x1="276.10" y1="284.40" x2="276.10" y2="361.50" stroke="#222222" stroke-width="1.15"/>
<line x1="299.00" y1="284.40" x2="299.00" y2="361.50" stroke="#222222" stroke-width="1.15"/>
<line x1="320.50" y1="284.40" x2="320.50" y2="361.50" stroke="#222222" stroke-width="1.15"/>
<line x1="337.10" y1="284.40" x2="337.10" y2="361.50" stroke="#222222" stroke-width="1.15"/>
<line x1="357.60" y1="284.40" x2="357.60" y2="361.50" stroke="#222222" stroke-width="1.15"/>
<line x1="381.50" y1="284.40" x2="381.50" y2="361.50" stroke="#222222" stroke-width="1.15"/>
<line x1="404.30" y1="284.40" x2="404.30" y2="361.50" stroke="#222222" stroke-width="1.15"/>
<line x1="428.00" y1="284.40" x2="428.00" y2="361.50" stroke="#222222" stroke-width="1.15"/>
<line x1="450.80" y1="284.40" x2="450.80" y2="361.50" stroke="#222222" stroke-width="1.15"/>
<line x1="473.00" y1="284.40" x2="473.00" y2="361.50" stroke="#222222" stroke-width="1.15"/>
<line x1="495.50" y1="284.40" x2="495.50" y2="361.50" stroke="#222222" stroke-width="1.15"/>
<line x1="45.30" y1="302.20" x2="519.30" y2="302.20" stroke="#222222" stroke-width="1.15"/>
<line x1="45.30" y1="316.20" x2="519.30" y2="316.20" stroke="#222222" stroke-width="1.15"/>
<line x1="45.30" y1="331.20" x2="519.30" y2="331.20" stroke="#222222" stroke-width="1.15"/>
<line x1="45.30" y1="346.50" x2="519.30" y2="346.50" stroke="#222222" stroke-width="1.15"/>
<text x="76.90" y="11.20" font-size="6.7" font-weight="bold" text-anchor="middle" fill="#1a1a1a" font-family='"Liberation Sans", sans-serif' >Samples</text>
<text x="136.35" y="10.26" font-size="5.2" font-weight="bold" text-anchor="middle" fill="#1a1a1a" font-family='"Liberation Sans", sans-serif' >EphA2</text>
<text x="161.80" y="10.26" font-size="5.2" font-weight="bold" text-anchor="middle" fill="#1a1a1a" font-family='"Liberation Sans", sans-serif' >EphA4</text>
<text x="187.20" y="10.26" font-size="5.2" font-weight="bold" text-anchor="middle" fill="#1a1a1a" font-family='"Liberation Sans", sans-serif' >EphA5</text>
<text x="212.80" y="10.26" font-size="5.2" font-weight="bold" text-anchor="middle" fill="#1a1a1a" font-family='"Liberation Sans", sans-serif' >EphA6</text>
<text x="238.20" y="10.26" font-size="5.2" font-weight="bold" text-anchor="middle" fill="#1a1a1a" font-family='"Liberation Sans", sans-serif' >EphA7</text>
<text x="263.55" y="10.26" font-size="5.2" font-weight="bold" text-anchor="middle" fill="#1a1a1a" font-family='"Liberation Sans", sans-serif' >EphA10</text>
<text x="287.55" y="10.26" font-size="5.2" font-weight="bold" text-anchor="middle" fill="#1a1a1a" font-family='"Liberation Sans", sans-serif' >E-A1</text>
<text x="309.75" y="10.26" font-size="5.2" font-weight="bold" text-anchor="middle" fill="#1a1a1a" font-family='"Liberation Sans", sans-serif' >E-A3</text>
<text x="328.80" y="10.26" font-size="5.2" font-weight="bold" text-anchor="middle" fill="#1a1a1a" font-family='"Liberation Sans", sans-serif' >EA4</text>
<text x="347.35" y="10.26" font-size="5.2" font-weight="bold" text-anchor="middle" fill="#1a1a1a" font-family='"Liberation Sans", sans-serif' >E-A5</text>
<text x="369.55" y="10.26" font-size="5.2" font-weight="bold" text-anchor="middle" fill="#1a1a1a" font-family='"Liberation Sans", sans-serif' >EphB1</text>
<text x="392.90" y="10.26" font-size="5.2" font-weight="bold" text-anchor="middle" fill="#1a1a1a" font-family='"Liberation Sans", sans-serif' >EphB2</text>
<text x="416.15" y="10.26" font-size="5.2" font-weight="bold" text-anchor="middle" fill="#1a1a1a" font-family='"Liberation Sans", sans-serif' >EphB3</text>
<text x="439.40" y="10.26" font-size="5.2" font-weight="bold" text-anchor="middle" fill="#1a1a1a" font-family='"Liberation Sans", sans-serif' >EphB4</text>
<text x="461.90" y="10.26" font-size="5.2" font-weight="bold" text-anchor="middle" fill="#1a1a1a" font-family='"Liberation Sans", sans-serif' >EphB6</text>
<text x="484.25" y="10.26" font-size="5.2" font-weight="bold" text-anchor="middle" fill="#1a1a1a" font-family='"Liberation Sans", sans-serif' >E-B1</text>
<text x="507.40" y="10.26" font-size="5.2" font-weight="bold" text-anchor="middle" fill="#1a1a1a" font-family='"Liberation Sans", sans-serif' >E-B2</text>
<text x="95.85" y="21.42" font-size="5.4" font-weight="bold" text-anchor="middle" fill="#1a1a1a" font-family='"Liberation Sans", sans-serif' >Moh4</text>
<text x="95.85" y="28.01" font-size="5.4" font-weight="bold" text-anchor="middle" fill="#1a1a1a" font-family='"Liberation Sans", sans-serif' >Jurkat</text>
<text x="95.85" y="34.59" font-size="5.4" font-weight="bold" text-anchor="middle" fill="#1a1a1a" font-family='"Liberation Sans", sans-serif' >PEER</text>
<text x="95.85" y="41.17" font-size="5.4" font-weight="bold" text-anchor="middle" fill="#1a1a1a" font-family='"Liberation Sans", sans-serif' >T-ALL1</text>
<text x="95.85" y="47.76" font-size="5.4" font-weight="bold" text-anchor="middle" fill="#1a1a1a" font-family='"Liberation Sans", sans-serif' >CEM</text>
<text x="95.85" y="54.34" font-size="5.4" font-weight="bold" text-anchor="middle" fill="#1a1a1a" font-family='"Liberation Sans", sans-serif' >J-TAG</text>
<text x="95.85" y="60.92" font-size="5.4" font-weight="bold" text-anchor="middle" fill="#1a1a1a" font-family='"Liberation Sans", sans-serif' >B-JAB</text>
<text x="95.85" y="67.51" font-size="5.4" font-weight="bold" text-anchor="middle" fill="#1a1a1a" font-family='"Liberation Sans", sans-serif' >RS4:11</text>
<text x="95.85" y="74.09" font-size="5.4" font-weight="bold" text-anchor="middle" fill="#1a1a1a" font-family='"Liberation Sans", sans-serif' >ALL1</text>
<text x="95.85" y="80.67" font-size="5.4" font-weight="bold" text-anchor="middle" fill="#1a1a1a" font-family='"Liberation Sans", sans-serif' >REH</text>
<text x="95.85" y="87.26" font-size="5.4" font-weight="bold" text-anchor="middle" fill="#1a1a1a" font-family='"Liberation Sans", sans-serif' >Raji</text>
<text x="95.85" y="93.84" font-size="5.4" font-weight="bold" text-anchor="middle" fill="#1a1a1a" font-family='"Liberation Sans", sans-serif' >Ramos</text>
<text x="56.85" y="37.81" font-size="5.2" font-weight="bold" text-anchor="middle" fill="#1a1a1a" font-family='"Liberation Sans", sans-serif' >T-cell</text>
<text x="56.85" y="77.31" font-size="5.2" font-weight="bold" text-anchor="middle" fill="#1a1a1a" font-family='"Liberation Sans", sans-serif' >B-cell</text>
<text x="136.35" y="21.28" font-size="5.0" font-weight="normal" text-anchor="middle" fill="#3a3a00" font-family='"Liberation Sans", sans-serif' >22.7</text>
<text x="136.35" y="27.86" font-size="5.0" font-weight="normal" text-anchor="middle" fill="#a80404" font-family='"Liberation Sans", sans-serif' >77.4</text>
<text x="136.35" y="34.45" font-size="5.0" font-weight="normal" text-anchor="middle" fill="#a80404" font-family='"Liberation Sans", sans-serif' >71.2</text>
<text x="136.35" y="41.03" font-size="5.0" font-weight="normal" text-anchor="middle" fill="#a80404" font-family='"Liberation Sans", sans-serif' >80.3</text>
<text x="136.35" y="47.61" font-size="5.0" font-weight="normal" text-anchor="middle" fill="#50304a" font-family='"Liberation Sans", sans-serif' >48.5</text>
<text x="136.35" y="54.20" font-size="5.0" font-weight="normal" text-anchor="middle" fill="#50304a" font-family='"Liberation Sans", sans-serif' >50.6</text>
<text x="136.35" y="60.78" font-size="5.0" font-weight="normal" text-anchor="middle" fill="#50304a" font-family='"Liberation Sans", sans-serif' >32.7</text>
<text x="136.35" y="67.36" font-size="5.0" font-weight="normal" text-anchor="middle" fill="#a80404" font-family='"Liberation Sans", sans-serif' >76.5</text>
<text x="136.35" y="73.95" font-size="5.0" font-weight="normal" text-anchor="middle" fill="#3a3a00" font-family='"Liberation Sans", sans-serif' >21.9</text>
<text x="136.35" y="80.53" font-size="5.0" font-weight="normal" text-anchor="middle" fill="#a80404" font-family='"Liberation Sans", sans-serif' >82.4</text>
<text x="136.35" y="87.12" font-size="5.0" font-weight="normal" text-anchor="middle" fill="#a80404" font-family='"Liberation Sans", sans-serif' >85.1</text>
<text x="136.35" y="93.70" font-size="5.0" font-weight="normal" text-anchor="middle" fill="#3a3a00" font-family='"Liberation Sans", sans-serif' >55.7</text>
<text x="161.80" y="21.28" font-size="5.0" font-weight="normal" text-anchor="middle" fill="#0a500a" font-family='"Liberation Sans", sans-serif' >4.3</text>
<text x="161.80" y="27.86" font-size="5.0" font-weight="normal" text-anchor="middle" fill="#a80404" font-family='"Liberation Sans", sans-serif' >90.7</text>
<text x="161.80" y="34.45" font-size="5.0" font-weight="normal" text-anchor="middle" fill="#0a500a" font-family='"Liberation Sans", sans-serif' >3.0</text>
<text x="161.80" y="41.03" font-size="5.0" font-weight="normal" text-anchor="middle" fill="#a80404" font-family='"Liberation Sans", sans-serif' >80.3</text>
<text x="161.80" y="47.61" font-size="5.0" font-weight="normal" text-anchor="middle" fill="#a80404" font-family='"Liberation Sans", sans-serif' >77.7</text>
<text x="161.80" y="54.20" font-size="5.0" font-weight="normal" text-anchor="middle" fill="#0a500a" font-family='"Liberation Sans", sans-serif' >12.9</text>
<text x="161.80" y="60.78" font-size="5.0" font-weight="normal" text-anchor="middle" fill="#0a500a" font-family='"Liberation Sans", sans-serif' >2.8</text>
<text x="161.80" y="67.36" font-size="5.0" font-weight="normal" text-anchor="middle" fill="#a80404" font-family='"Liberation Sans", sans-serif' >86.3</text>
<text x="161.80" y="73.95" font-size="5.0" font-weight="normal" text-anchor="middle" fill="#50304a" font-family='"Liberation Sans", sans-serif' >47.8</text>
<text x="161.80" y="80.53" font-size="5.0" font-weight="normal" text-anchor="middle" fill="#50304a" font-family='"Liberation Sans", sans-serif' >43.8</text>
<text x="161.80" y="87.12" font-size="5.0" font-weight="normal" text-anchor="middle" fill="#a80404" font-family='"Liberation Sans", sans-serif' >72.4</text>
<text x="161.80" y="93.70" font-size="5.0" font-weight="normal" text-anchor="middle" fill="#0a500a" font-family='"Liberation Sans", sans-serif' >8.0</text>
<text x="187.20" y="21.28" font-size="5.0" font-weight="normal" text-anchor="middle" fill="#50304a" font-family='"Liberation Sans", sans-serif' >51.3</text>
<text x="187.20" y="27.86" font-size="5.0" font-weight="normal" text-anchor="middle" fill="#a80404" font-family='"Liberation Sans", sans-serif' >60.5</text>
<text x="187.20" y="34.45" font-size="5.0" font-weight="normal" text-anchor="middle" fill="#a80404" font-family='"Liberation Sans", sans-serif' >73.5</text>
<text x="187.20" y="41.03" font-size="5.0" font-weight="normal" text-anchor="middle" fill="#a80404" font-family='"Liberation Sans", sans-serif' >84.8</text>
<text x="187.20" y="47.61" font-size="5.0" font-weight="normal" text-anchor="middle" fill="#a80404" font-family='"Liberation Sans", sans-serif' >82.4</text>
<text x="187.20" y="54.20" font-size="5.0" font-weight="normal" text-anchor="middle" fill="#a80404" font-family='"Liberation Sans", sans-serif' >80.1</text>
<text x="187.20" y="60.78" font-size="5.0" font-weight="normal" text-anchor="middle" fill="#0a500a" font-family='"Liberation Sans", sans-serif' >5.8</text>
<text x="187.20" y="67.36" font-size="5.0" font-weight="normal" text-anchor="middle" fill="#a80404" font-family='"Liberation Sans", sans-serif' >71.5</text>
<text x="187.20" y="73.95" font-size="5.0" font-weight="normal" text-anchor="middle" fill="#a80404" font-family='"Liberation Sans", sans-serif' >84.3</text>
<text x="187.20" y="80.53" font-size="5.0" font-weight="normal" text-anchor="middle" fill="#a80404" font-family='"Liberation Sans", sans-serif' >77.5</text>
<text x="187.20" y="87.12" font-size="5.0" font-weight="normal" text-anchor="middle" fill="#a80404" font-family='"Liberation Sans", sans-serif' >72.3</text>
<text x="187.20" y="93.70" font-size="5.0" font-weight="normal" text-anchor="middle" fill="#a80404" font-family='"Liberation Sans", sans-serif' >71.9</text>
<text x="212.80" y="21.28" font-size="5.0" font-weight="normal" text-anchor="middle" fill="#50304a" font-family='"Liberation Sans", sans-serif' >58.5</text>
<text x="212.80" y="27.86" font-size="5.0" font-weight="normal" text-anchor="middle" fill="#0a500a" font-family='"Liberation Sans", sans-serif' >3.4</text>
<text x="212.80" y="34.45" font-size="5.0" font-weight="normal" text-anchor="middle" fill="#a80404" font-family='"Liberation Sans", sans-serif' >85.1</text>
<text x="212.80" y="41.03" font-size="5.0" font-weight="normal" text-anchor="middle" fill="#a80404" font-family='"Liberation Sans", sans-serif' >88.5</text>
<text x="212.80" y="47.61" font-size="5.0" font-weight="normal" text-anchor="middle" fill="#a80404" font-family='"Liberation Sans", sans-serif' >83.5</text>
<text x="212.80" y="54.20" font-size="5.0" font-weight="normal" text-anchor="middle" fill="#a80404" font-family='"Liberation Sans", sans-serif' >85.3</text>
<text x="212.80" y="60.78" font-size="5.0" font-weight="normal" text-anchor="middle" fill="#a80404" font-family='"Liberation Sans", sans-serif' >84.1</text>
<text x="212.80" y="67.36" font-size="5.0" font-weight="normal" text-anchor="middle" fill="#a80404" font-family='"Liberation Sans", sans-serif' >79.3</text>
<text x="212.80" y="73.95" font-size="5.0" font-weight="normal" text-anchor="middle" fill="#50304a" font-family='"Liberation Sans", sans-serif' >55.7</text>
<text x="212.80" y="80.53" font-size="5.0" font-weight="normal" text-anchor="middle" fill="#a80404" font-family='"Liberation Sans", sans-serif' >80.5</text>
<text x="212.80" y="87.12" font-size="5.0" font-weight="normal" text-anchor="middle" fill="#a80404" font-family='"Liberation Sans", sans-serif' >86.1</text>
<text x="212.80" y="93.70" font-size="5.0" font-weight="normal" text-anchor="middle" fill="#a80404" font-family='"Liberation Sans", sans-serif' >79.5</text>
<text x="238.20" y="21.28" font-size="5.0" font-weight="normal" text-anchor="middle" fill="#3a3a00" font-family='"Liberation Sans", sans-serif' >22.5</text>
<text x="238.20" y="27.86" font-size="5.0" font-weight="normal" text-anchor="middle" fill="#a80404" font-family='"Liberation Sans", sans-serif' >71.2</text>
<text x="238.20" y="34.45" font-size="5.0" font-weight="normal" text-anchor="middle" fill="#50304a" font-family='"Liberation Sans", sans-serif' >42.0</text>
<text x="238.20" y="41.03" font-size="5.0" font-weight="normal" text-anchor="middle" fill="#a80404" font-family='"Liberation Sans", sans-serif' >70.5</text>
<text x="238.20" y="47.61" font-size="5.0" font-weight="normal" text-anchor="middle" fill="#50304a" font-family='"Liberation Sans", sans-serif' >56.4</text>
<text x="238.20" y="54.20" font-size="5.0" font-weight="normal" text-anchor="middle" fill="#a80404" font-family='"Liberation Sans", sans-serif' >69.8</text>
<text x="238.20" y="60.78" font-size="5.0" font-weight="normal" text-anchor="middle" fill="#0a500a" font-family='"Liberation Sans", sans-serif' >1.6</text>
<text x="238.20" y="67.36" font-size="5.0" font-weight="normal" text-anchor="middle" fill="#50304a" font-family='"Liberation Sans", sans-serif' >38.2</text>
<text x="238.20" y="73.95" font-size="5.0" font-weight="normal" text-anchor="middle" fill="#50304a" font-family='"Liberation Sans", sans-serif' >37.7</text>
<text x="238.20" y="80.53" font-size="5.0" font-weight="normal" text-anchor="middle" fill="#0a500a" font-family='"Liberation Sans", sans-serif' >3.0</text>
<text x="238.20" y="87.12" font-size="5.0" font-weight="normal" text-anchor="middle" fill="#a80404" font-family='"Liberation Sans", sans-serif' >64.5</text>
<text x="238.20" y="93.70" font-size="5.0" font-weight="normal" text-anchor="middle" fill="#50304a" font-family='"Liberation Sans", sans-serif' >52.2</text>
<text x="263.55" y="21.28" font-size="5.0" font-weight="normal" text-anchor="middle" fill="#700040" font-family='"Liberation Sans", sans-serif' >98.0</text>
<text x="263.55" y="27.86" font-size="5.0" font-weight="normal" text-anchor="middle" fill="#a80404" font-family='"Liberation Sans", sans-serif' >88.6</text>
<text x="263.55" y="34.45" font-size="5.0" font-weight="normal" text-anchor="middle" fill="#a80404" font-family='"Liberation Sans", sans-serif' >91.3</text>
<text x="263.55" y="41.03" font-size="5.0" font-weight="normal" text-anchor="middle" fill="#a80404" font-family='"Liberation Sans", sans-serif' >88.4</text>
<text x="263.55" y="47.61" font-size="5.0" font-weight="normal" text-anchor="middle" fill="#700040" font-family='"Liberation Sans", sans-serif' >92.7</text>
<text x="263.55" y="54.20" font-size="5.0" font-weight="normal" text-anchor="middle" fill="#a80404" font-family='"Liberation Sans", sans-serif' >89.1</text>
<text x="263.55" y="60.78" font-size="5.0" font-weight="normal" text-anchor="middle" fill="#a80404" font-family='"Liberation Sans", sans-serif' >90.1</text>
<text x="263.55" y="67.36" font-size="5.0" font-weight="normal" text-anchor="middle" fill="#a80404" font-family='"Liberation Sans", sans-serif' >86.2</text>
<text x="263.55" y="73.95" font-size="5.0" font-weight="normal" text-anchor="middle" fill="#a80404" font-family='"Liberation Sans", sans-serif' >84.4</text>
<text x="263.55" y="80.53" font-size="5.0" font-weight="normal" text-anchor="middle" fill="#a80404" font-family='"Liberation Sans", sans-serif' >90.1</text>
<text x="263.55" y="87.12" font-size="5.0" font-weight="normal" text-anchor="middle" fill="#a80404" font-family='"Liberation Sans", sans-serif' >94.3</text>
<text x="263.55" y="93.70" font-size="5.0" font-weight="normal" text-anchor="middle" fill="#a80404" font-family='"Liberation Sans", sans-serif' >90.6</text>
<text x="287.55" y="21.28" font-size="5.0" font-weight="normal" text-anchor="middle" fill="#0a500a" font-family='"Liberation Sans", sans-serif' >2.8</text>
<text x="287.55" y="27.86" font-size="5.0" font-weight="normal" text-anchor="middle" fill="#0a500a" font-family='"Liberation Sans", sans-serif' >3.2</text>
<text x="287.55" y="34.45" font-size="5.0" font-weight="normal" text-anchor="middle" fill="#0a500a" font-family='"Liberation Sans", sans-serif' >3.0</text>
<text x="287.55" y="41.03" font-size="5.0" font-weight="normal" text-anchor="middle" fill="#0a500a" font-family='"Liberation Sans", sans-serif' >3.0</text>
<text x="287.55" y="47.61" font-size="5.0" font-weight="normal" text-anchor="middle" fill="#a80404" font-family='"Liberation Sans", sans-serif' >71.6</text>
<text x="287.55" y="54.20" font-size="5.0" font-weight="normal" text-anchor="middle" fill="#0a500a" font-family='"Liberation Sans", sans-serif' >2.8</text>
<text x="287.55" y="60.78" font-size="5.0" font-weight="normal" text-anchor="middle" fill="#50304a" font-family='"Liberation Sans", sans-serif' >37.7</text>
<text x="287.55" y="67.36" font-size="5.0" font-weight="normal" text-anchor="middle" fill="#0a500a" font-family='"Liberation Sans", sans-serif' >2.8</text>
<text x="287.55" y="73.95" font-size="5.0" font-weight="normal" text-anchor="middle" fill="#0a500a" font-family='"Liberation Sans", sans-serif' >4.2</text>
<text x="287.55" y="80.53" font-size="5.0" font-weight="normal" text-anchor="middle" fill="#0a500a" font-family='"Liberation Sans", sans-serif' >3.0</text>
<text x="287.55" y="87.12" font-size="5.0" font-weight="normal" text-anchor="middle" fill="#a80404" font-family='"Liberation Sans", sans-serif' >75.3</text>
<text x="287.55" y="93.70" font-size="5.0" font-weight="normal" text-anchor="middle" fill="#0a500a" font-family='"Liberation Sans", sans-serif' >5.0</text>
<text x="309.75" y="21.28" font-size="5.0" font-weight="normal" text-anchor="middle" fill="#0a500a" font-family='"Liberation Sans", sans-serif' >3.7</text>
<text x="309.75" y="27.86" font-size="5.0" font-weight="normal" text-anchor="middle" fill="#0a500a" font-family='"Liberation Sans", sans-serif' >2.3</text>
<text x="309.75" y="34.45" font-size="5.0" font-weight="normal" text-anchor="middle" fill="#3a3a00" font-family='"Liberation Sans", sans-serif' >17.7</text>
<text x="309.75" y="41.03" font-size="5.0" font-weight="normal" text-anchor="middle" fill="#a80404" font-family='"Liberation Sans", sans-serif' >60.5</text>
<text x="309.75" y="47.61" font-size="5.0" font-weight="normal" text-anchor="middle" fill="#3a3a00" font-family='"Liberation Sans", sans-serif' >23.1</text>
<text x="309.75" y="54.20" font-size="5.0" font-weight="normal" text-anchor="middle" fill="#0a500a" font-family='"Liberation Sans", sans-serif' >1.4</text>
<text x="309.75" y="60.78" font-size="5.0" font-weight="normal" text-anchor="middle" fill="#0a500a" font-family='"Liberation Sans", sans-serif' >1.4</text>
<text x="309.75" y="67.36" font-size="5.0" font-weight="normal" text-anchor="middle" fill="#0a500a" font-family='"Liberation Sans", sans-serif' >2.4</text>
<text x="309.75" y="73.95" font-size="5.0" font-weight="normal" text-anchor="middle" fill="#0a500a" font-family='"Liberation Sans", sans-serif' >4.1</text>
<text x="309.75" y="80.53" font-size="5.0" font-weight="normal" text-anchor="middle" fill="#0a500a" font-family='"Liberation Sans", sans-serif' >1.4</text>
<text x="309.75" y="87.12" font-size="5.0" font-weight="normal" text-anchor="middle" fill="#50304a" font-family='"Liberation Sans", sans-serif' >37.6</text>
<text x="309.75" y="93.70" font-size="5.0" font-weight="normal" text-anchor="middle" fill="#0a500a" font-family='"Liberation Sans", sans-serif' >4.4</text>
<text x="328.80" y="21.28" font-size="5.0" font-weight="normal" text-anchor="middle" fill="#0a500a" font-family='"Liberation Sans", sans-serif' >1.8</text>
<text x="328.80" y="27.86" font-size="5.0" font-weight="normal" text-anchor="middle" fill="#0a500a" font-family='"Liberation Sans", sans-serif' >1.8</text>
<text x="328.80" y="34.45" font-size="5.0" font-weight="normal" text-anchor="middle" fill="#0a500a" font-family='"Liberation Sans", sans-serif' >1.1</text>
<text x="328.80" y="41.03" font-size="5.0" font-weight="normal" text-anchor="middle" fill="#0a500a" font-family='"Liberation Sans", sans-serif' >1.3</text>
<text x="328.80" y="47.61" font-size="5.0" font-weight="normal" text-anchor="middle" fill="#0a500a" font-family='"Liberation Sans", sans-serif' >2.5</text>
<text x="328.80" y="54.20" font-size="5.0" font-weight="normal" text-anchor="middle" fill="#0a500a" font-family='"Liberation Sans", sans-serif' >0.7</text>
<text x="328.80" y="60.78" font-size="5.0" font-weight="normal" text-anchor="middle" fill="#0a500a" font-family='"Liberation Sans", sans-serif' >1.7</text>
<text x="328.80" y="67.36" font-size="5.0" font-weight="normal" text-anchor="middle" fill="#0a500a" font-family='"Liberation Sans", sans-serif' >2.6</text>
<text x="328.80" y="73.95" font-size="5.0" font-weight="normal" text-anchor="middle" fill="#0a500a" font-family='"Liberation Sans", sans-serif' >2.4</text>
<text x="328.80" y="80.53" font-size="5.0" font-weight="normal" text-anchor="middle" fill="#0a500a" font-family='"Liberation Sans", sans-serif' >1.5</text>
<text x="328.80" y="87.12" font-size="5.0" font-weight="normal" text-anchor="middle" fill="#0a500a" font-family='"Liberation Sans", sans-serif' >1.6</text>
<text x="328.80" y="93.70" font-size="5.0" font-weight="normal" text-anchor="middle" fill="#0a500a" font-family='"Liberation Sans", sans-serif' >1.4</text>
<text x="347.35" y="21.28" font-size="5.0" font-weight="normal" text-anchor="middle" fill="#50304a" font-family='"Liberation Sans", sans-serif' >43.5</text>
<text x="347.35" y="27.86" font-size="5.0" font-weight="normal" text-anchor="middle" fill="#0a500a" font-family='"Liberation Sans", sans-serif' >2.6</text>
<text x="347.35" y="34.45" font-size="5.0" font-weight="normal" text-anchor="middle" fill="#3a3a00" font-family='"Liberation Sans", sans-serif' >18.0</text>
<text x="347.35" y="41.03" font-size="5.0" font-weight="normal" text-anchor="middle" fill="#3a3a00" font-family='"Liberation Sans", sans-serif' >26.0</text>
<text x="347.35" y="47.61" font-size="5.0" font-weight="normal" text-anchor="middle" fill="#a80404" font-family='"Liberation Sans", sans-serif' >57.6</text>
<text x="347.35" y="54.20" font-size="5.0" font-weight="normal" text-anchor="middle" fill="#0a500a" font-family='"Liberation Sans", sans-serif' >7.6</text>
<text x="347.35" y="60.78" font-size="5.0" font-weight="normal" text-anchor="middle" fill="#a80404" font-family='"Liberation Sans", sans-serif' >63.0</text>
<text x="347.35" y="67.36" font-size="5.0" font-weight="normal" text-anchor="middle" fill="#0a500a" font-family='"Liberation Sans", sans-serif' >5.6</text>
<text x="347.35" y="73.95" font-size="5.0" font-weight="normal" text-anchor="middle" fill="#a80404" font-family='"Liberation Sans", sans-serif' >65.1</text>
<text x="347.35" y="80.53" font-size="5.0" font-weight="normal" text-anchor="middle" fill="#a80404" font-family='"Liberation Sans", sans-serif' >65.5</text>
<text x="347.35" y="87.12" font-size="5.0" font-weight="normal" text-anchor="middle" fill="#a80404" font-family='"Liberation Sans", sans-serif' >52.0</text>
<text x="347.35" y="93.70" font-size="5.0" font-weight="normal" text-anchor="middle" fill="#a80404" font-family='"Liberation Sans", sans-serif' >67.5</text>
<text x="369.55" y="21.28" font-size="5.0" font-weight="normal" text-anchor="middle" fill="#3a3a00" font-family='"Liberation Sans", sans-serif' >22.3</text>
<text x="369.55" y="27.86" font-size="5.0" font-weight="normal" text-anchor="middle" fill="#0a500a" font-family='"Liberation Sans", sans-serif' >6.0</text>
<text x="369.55" y="34.45" font-size="5.0" font-weight="normal" text-anchor="middle" fill="#a80404" font-family='"Liberation Sans", sans-serif' >78.5</text>
<text x="369.55" y="41.03" font-size="5.0" font-weight="normal" text-anchor="middle" fill="#a80404" font-family='"Liberation Sans", sans-serif' >82.4</text>
<text x="369.55" y="47.61" font-size="5.0" font-weight="normal" text-anchor="middle" fill="#a80404" font-family='"Liberation Sans", sans-serif' >86.5</text>
<text x="369.55" y="54.20" font-size="5.0" font-weight="normal" text-anchor="middle" fill="#a80404" font-family='"Liberation Sans", sans-serif' >80.3</text>
<text x="369.55" y="60.78" font-size="5.0" font-weight="normal" text-anchor="middle" fill="#a80404" font-family='"Liberation Sans", sans-serif' >85.5</text>
<text x="369.55" y="67.36" font-size="5.0" font-weight="normal" text-anchor="middle" fill="#0a500a" font-family='"Liberation Sans", sans-serif' >3.4</text>
<text x="369.55" y="73.95" font-size="5.0" font-weight="normal" text-anchor="middle" fill="#a80404" font-family='"Liberation Sans", sans-serif' >85.1</text>
<text x="369.55" y="80.53" font-size="5.0" font-weight="normal" text-anchor="middle" fill="#a80404" font-family='"Liberation Sans", sans-serif' >87.6</text>
<text x="369.55" y="87.12" font-size="5.0" font-weight="normal" text-anchor="middle" fill="#a80404" font-family='"Liberation Sans", sans-serif' >86.1</text>
<text x="369.55" y="93.70" font-size="5.0" font-weight="normal" text-anchor="middle" fill="#50304a" font-family='"Liberation Sans", sans-serif' >52.3</text>
<text x="392.90" y="21.28" font-size="5.0" font-weight="normal" text-anchor="middle" fill="#0a500a" font-family='"Liberation Sans", sans-serif' >1.2</text>
<text x="392.90" y="27.86" font-size="5.0" font-weight="normal" text-anchor="middle" fill="#0a500a" font-family='"Liberation Sans", sans-serif' >1.2</text>
<text x="392.90" y="34.45" font-size="5.0" font-weight="normal" text-anchor="middle" fill="#3a3a00" font-family='"Liberation Sans", sans-serif' >21.6</text>
<text x="392.90" y="41.03" font-size="5.0" font-weight="normal" text-anchor="middle" fill="#a80404" font-family='"Liberation Sans", sans-serif' >72.6</text>
<text x="392.90" y="47.61" font-size="5.0" font-weight="normal" text-anchor="middle" fill="#a80404" font-family='"Liberation Sans", sans-serif' >70.5</text>
<text x="392.90" y="54.20" font-size="5.0" font-weight="normal" text-anchor="middle" fill="#0a500a" font-family='"Liberation Sans", sans-serif' >1.8</text>
<text x="392.90" y="60.78" font-size="5.0" font-weight="normal" text-anchor="middle" fill="#50304a" font-family='"Liberation Sans", sans-serif' >52.0</text>
<text x="392.90" y="67.36" font-size="5.0" font-weight="normal" text-anchor="middle" fill="#0a500a" font-family='"Liberation Sans", sans-serif' >1.6</text>
<text x="392.90" y="73.95" font-size="5.0" font-weight="normal" text-anchor="middle" fill="#3a3a00" font-family='"Liberation Sans", sans-serif' >24.6</text>
<text x="392.90" y="80.53" font-size="5.0" font-weight="normal" text-anchor="middle" fill="#0a500a" font-family='"Liberation Sans", sans-serif' >2.4</text>
<text x="392.90" y="87.12" font-size="5.0" font-weight="normal" text-anchor="middle" fill="#a80404" font-family='"Liberation Sans", sans-serif' >80.3</text>
<text x="392.90" y="93.70" font-size="5.0" font-weight="normal" text-anchor="middle" fill="#0a500a" font-family='"Liberation Sans", sans-serif' >4.4</text>
<text x="416.15" y="21.28" font-size="5.0" font-weight="normal" text-anchor="middle" fill="#a80404" font-family='"Liberation Sans", sans-serif' >81.8</text>
<text x="416.15" y="27.86" font-size="5.0" font-weight="normal" text-anchor="middle" fill="#0a500a" font-family='"Liberation Sans", sans-serif' >1.4</text>
<text x="416.15" y="34.45" font-size="5.0" font-weight="normal" text-anchor="middle" fill="#a80404" font-family='"Liberation Sans", sans-serif' >83.5</text>
<text x="416.15" y="41.03" font-size="5.0" font-weight="normal" text-anchor="middle" fill="#a80404" font-family='"Liberation Sans", sans-serif' >80.6</text>
<text x="416.15" y="47.61" font-size="5.0" font-weight="normal" text-anchor="middle" fill="#a80404" font-family='"Liberation Sans", sans-serif' >80.6</text>
<text x="416.15" y="54.20" font-size="5.0" font-weight="normal" text-anchor="middle" fill="#a80404" font-family='"Liberation Sans", sans-serif' >81.3</text>
<text x="416.15" y="60.78" font-size="5.0" font-weight="normal" text-anchor="middle" fill="#0a500a" font-family='"Liberation Sans", sans-serif' >2.3</text>
<text x="416.15" y="67.36" font-size="5.0" font-weight="normal" text-anchor="middle" fill="#0a500a" font-family='"Liberation Sans", sans-serif' >3.6</text>
<text x="416.15" y="73.95" font-size="5.0" font-weight="normal" text-anchor="middle" fill="#0a500a" font-family='"Liberation Sans", sans-serif' >1.4</text>
<text x="416.15" y="80.53" font-size="5.0" font-weight="normal" text-anchor="middle" fill="#0a500a" font-family='"Liberation Sans", sans-serif' >2.1</text>
<text x="416.15" y="87.12" font-size="5.0" font-weight="normal" text-anchor="middle" fill="#a80404" font-family='"Liberation Sans", sans-serif' >78.8</text>
<text x="416.15" y="93.70" font-size="5.0" font-weight="normal" text-anchor="middle" fill="#50304a" font-family='"Liberation Sans", sans-serif' >45.3</text>
<text x="439.40" y="21.28" font-size="5.0" font-weight="normal" text-anchor="middle" fill="#0a500a" font-family='"Liberation Sans", sans-serif' >14.2</text>
<text x="439.40" y="27.86" font-size="5.0" font-weight="normal" text-anchor="middle" fill="#50304a" font-family='"Liberation Sans", sans-serif' >30.1</text>
<text x="439.40" y="34.45" font-size="5.0" font-weight="normal" text-anchor="middle" fill="#0a500a" font-family='"Liberation Sans", sans-serif' >2.6</text>
<text x="439.40" y="41.03" font-size="5.0" font-weight="normal" text-anchor="middle" fill="#50304a" font-family='"Liberation Sans", sans-serif' >47.6</text>
<text x="439.40" y="47.61" font-size="5.0" font-weight="normal" text-anchor="middle" fill="#a80404" font-family='"Liberation Sans", sans-serif' >80.5</text>
<text x="439.40" y="54.20" font-size="5.0" font-weight="normal" text-anchor="middle" fill="#50304a" font-family='"Liberation Sans", sans-serif' >32.6</text>
<text x="439.40" y="60.78" font-size="5.0" font-weight="normal" text-anchor="middle" fill="#a80404" font-family='"Liberation Sans", sans-serif' >80.1</text>
<text x="439.40" y="67.36" font-size="5.0" font-weight="normal" text-anchor="middle" fill="#3a3a00" font-family='"Liberation Sans", sans-serif' >26.7</text>
<text x="439.40" y="73.95" font-size="5.0" font-weight="normal" text-anchor="middle" fill="#0a500a" font-family='"Liberation Sans", sans-serif' >7.4</text>
<text x="439.40" y="80.53" font-size="5.0" font-weight="normal" text-anchor="middle" fill="#0a500a" font-family='"Liberation Sans", sans-serif' >1.8</text>
<text x="439.40" y="87.12" font-size="5.0" font-weight="normal" text-anchor="middle" fill="#a80404" font-family='"Liberation Sans", sans-serif' >88.8</text>
<text x="439.40" y="93.70" font-size="5.0" font-weight="normal" text-anchor="middle" fill="#0a500a" font-family='"Liberation Sans", sans-serif' >12.8</text>
<text x="461.90" y="21.28" font-size="5.0" font-weight="normal" text-anchor="middle" fill="#0a500a" font-family='"Liberation Sans", sans-serif' >4.8</text>
<text x="461.90" y="27.86" font-size="5.0" font-weight="normal" text-anchor="middle" fill="#0a500a" font-family='"Liberation Sans", sans-serif' >2.3</text>
<text x="461.90" y="34.45" font-size="5.0" font-weight="normal" text-anchor="middle" fill="#0a500a" font-family='"Liberation Sans", sans-serif' >10.7</text>
<text x="461.90" y="41.03" font-size="5.0" font-weight="normal" text-anchor="middle" fill="#0a500a" font-family='"Liberation Sans", sans-serif' >6.1</text>
<text x="461.90" y="47.61" font-size="5.0" font-weight="normal" text-anchor="middle" fill="#0a500a" font-family='"Liberation Sans", sans-serif' >1.6</text>
<text x="461.90" y="54.20" font-size="5.0" font-weight="normal" text-anchor="middle" fill="#0a500a" font-family='"Liberation Sans", sans-serif' >3.2</text>
<text x="461.90" y="60.78" font-size="5.0" font-weight="normal" text-anchor="middle" fill="#0a500a" font-family='"Liberation Sans", sans-serif' >1.8</text>
<text x="461.90" y="67.36" font-size="5.0" font-weight="normal" text-anchor="middle" fill="#0a500a" font-family='"Liberation Sans", sans-serif' >6.2</text>
<text x="461.90" y="73.95" font-size="5.0" font-weight="normal" text-anchor="middle" fill="#0a500a" font-family='"Liberation Sans", sans-serif' >2.7</text>
<text x="461.90" y="80.53" font-size="5.0" font-weight="normal" text-anchor="middle" fill="#0a500a" font-family='"Liberation Sans", sans-serif' >5.9</text>
<text x="461.90" y="87.12" font-size="5.0" font-weight="normal" text-anchor="middle" fill="#3a3a00" font-family='"Liberation Sans", sans-serif' >19.5</text>
<text x="461.90" y="93.70" font-size="5.0" font-weight="normal" text-anchor="middle" fill="#0a500a" font-family='"Liberation Sans", sans-serif' >8.8</text>
<text x="484.25" y="21.28" font-size="5.0" font-weight="normal" text-anchor="middle" fill="#3a3a00" font-family='"Liberation Sans", sans-serif' >18.1</text>
<text x="484.25" y="27.86" font-size="5.0" font-weight="normal" text-anchor="middle" fill="#0a500a" font-family='"Liberation Sans", sans-serif' >11.8</text>
<text x="484.25" y="34.45" font-size="5.0" font-weight="normal" text-anchor="middle" fill="#700040" font-family='"Liberation Sans", sans-serif' >44.2</text>
<text x="484.25" y="41.03" font-size="5.0" font-weight="normal" text-anchor="middle" fill="#0a500a" font-family='"Liberation Sans", sans-serif' >12.4</text>
<text x="484.25" y="47.61" font-size="5.0" font-weight="normal" text-anchor="middle" fill="#700040" font-family='"Liberation Sans", sans-serif' >57.2</text>
<text x="484.25" y="54.20" font-size="5.0" font-weight="normal" text-anchor="middle" fill="#3a3a00" font-family='"Liberation Sans", sans-serif' >15.5</text>
<text x="484.25" y="60.78" font-size="5.0" font-weight="normal" text-anchor="middle" fill="#700040" font-family='"Liberation Sans", sans-serif' >57.6</text>
<text x="484.25" y="67.36" font-size="5.0" font-weight="normal" text-anchor="middle" fill="#3a3a00" font-family='"Liberation Sans", sans-serif' >16.1</text>
<text x="484.25" y="73.95" font-size="5.0" font-weight="normal" text-anchor="middle" fill="#700040" font-family='"Liberation Sans", sans-serif' >50.0</text>
<text x="484.25" y="80.53" font-size="5.0" font-weight="normal" text-anchor="middle" fill="#3a3a00" font-family='"Liberation Sans", sans-serif' >16.1</text>
<text x="484.25" y="87.12" font-size="5.0" font-weight="normal" text-anchor="middle" fill="#0a500a" font-family='"Liberation Sans", sans-serif' >11.8</text>
<text x="484.25" y="93.70" font-size="5.0" font-weight="normal" text-anchor="middle" fill="#0a500a" font-family='"Liberation Sans", sans-serif' >10.0</text>
<text x="507.40" y="21.28" font-size="5.0" font-weight="normal" text-anchor="middle" fill="#0a500a" font-family='"Liberation Sans", sans-serif' >3.7</text>
<text x="507.40" y="27.86" font-size="5.0" font-weight="normal" text-anchor="middle" fill="#0a500a" font-family='"Liberation Sans", sans-serif' >1.0</text>
<text x="507.40" y="34.45" font-size="5.0" font-weight="normal" text-anchor="middle" fill="#0a500a" font-family='"Liberation Sans", sans-serif' >3.6</text>
<text x="507.40" y="41.03" font-size="5.0" font-weight="normal" text-anchor="middle" fill="#50304a" font-family='"Liberation Sans", sans-serif' >81.5</text>
<text x="507.40" y="47.61" font-size="5.0" font-weight="normal" text-anchor="middle" fill="#0a500a" font-family='"Liberation Sans", sans-serif' >5.5</text>
<text x="507.40" y="54.20" font-size="5.0" font-weight="normal" text-anchor="middle" fill="#0a500a" font-family='"Liberation Sans", sans-serif' >7.1</text>
<text x="507.40" y="60.78" font-size="5.0" font-weight="normal" text-anchor="middle" fill="#0a500a" font-family='"Liberation Sans", sans-serif' >8.3</text>
<text x="507.40" y="67.36" font-size="5.0" font-weight="normal" text-anchor="middle" fill="#0a500a" font-family='"Liberation Sans", sans-serif' >2.2</text>
<text x="507.40" y="73.95" font-size="5.0" font-weight="normal" text-anchor="middle" fill="#50304a" font-family='"Liberation Sans", sans-serif' >41.7</text>
<text x="507.40" y="80.53" font-size="5.0" font-weight="normal" text-anchor="middle" fill="#0a500a" font-family='"Liberation Sans", sans-serif' >2.1</text>
<text x="507.40" y="87.12" font-size="5.0" font-weight="normal" text-anchor="middle" fill="#a80404" font-family='"Liberation Sans", sans-serif' >60.5</text>
<text x="507.40" y="93.70" font-size="5.0" font-weight="normal" text-anchor="middle" fill="#0a500a" font-family='"Liberation Sans", sans-serif' >2.4</text>
<text x="84.30" y="100.70" font-size="5.3" font-weight="bold" text-anchor="middle" fill="#1a1a1a" font-family='"Liberation Sans", sans-serif' >Total Number Studied</text>
<text x="136.35" y="105.89" font-size="5.0" font-weight="normal" text-anchor="middle" fill="#2a2a2a" font-family='"Liberation Sans", sans-serif' >12</text>
<text x="161.80" y="105.89" font-size="5.0" font-weight="normal" text-anchor="middle" fill="#2a2a2a" font-family='"Liberation Sans", sans-serif' >12</text>
<text x="187.20" y="105.89" font-size="5.0" font-weight="normal" text-anchor="middle" fill="#2a2a2a" font-family='"Liberation Sans", sans-serif' >12</text>
<text x="212.80" y="105.89" font-size="5.0" font-weight="normal" text-anchor="middle" fill="#2a2a2a" font-family='"Liberation Sans", sans-serif' >12</text>
<text x="238.20" y="105.89" font-size="5.0" font-weight="normal" text-anchor="middle" fill="#2a2a2a" font-family='"Liberation Sans", sans-serif' >12</text>
<text x="263.55" y="105.89" font-size="5.0" font-weight="normal" text-anchor="middle" fill="#2a2a2a" font-family='"Liberation Sans", sans-serif' >12</text>
<text x="287.55" y="105.89" font-size="5.0" font-weight="normal" text-anchor="middle" fill="#2a2a2a" font-family='"Liberation Sans", sans-serif' >12</text>
<text x="309.75" y="105.89" font-size="5.0" font-weight="normal" text-anchor="middle" fill="#2a2a2a" font-family='"Liberation Sans", sans-serif' >12</text>
<text x="328.80" y="105.89" font-size="5.0" font-weight="normal" text-anchor="middle" fill="#2a2a2a" font-family='"Liberation Sans", sans-serif' >12</text>
<text x="347.35" y="105.89" font-size="5.0" font-weight="normal" text-anchor="middle" fill="#2a2a2a" font-family='"Liberation Sans", sans-serif' >12</text>
<text x="369.55" y="105.89" font-size="5.0" font-weight="normal" text-anchor="middle" fill="#2a2a2a" font-family='"Liberation Sans", sans-serif' >12</text>
<text x="392.90" y="105.89" font-size="5.0" font-weight="normal" text-anchor="middle" fill="#2a2a2a" font-family='"Liberation Sans", sans-serif' >12</text>
<text x="416.15" y="105.89" font-size="5.0" font-weight="normal" text-anchor="middle" fill="#2a2a2a" font-family='"Liberation Sans", sans-serif' >12</text>
<text x="439.40" y="105.89" font-size="5.0" font-weight="normal" text-anchor="middle" fill="#2a2a2a" font-family='"Liberation Sans", sans-serif' >12</text>
<text x="461.90" y="105.89" font-size="5.0" font-weight="normal" text-anchor="middle" fill="#2a2a2a" font-family='"Liberation Sans", sans-serif' >12</text>
<text x="484.25" y="105.89" font-size="5.0" font-weight="normal" text-anchor="middle" fill="#2a2a2a" font-family='"Liberation Sans", sans-serif' >12</text>
<text x="507.40" y="105.89" font-size="5.0" font-weight="normal" text-anchor="middle" fill="#2a2a2a" font-family='"Liberation Sans", sans-serif' >12</text>
<text x="84.30" y="117.70" font-size="5.3" font-weight="bold" text-anchor="middle" fill="#1a1a1a" font-family='"Liberation Sans", sans-serif' >Number Methylated</text>
<text x="136.35" y="122.59" font-size="5.0" font-weight="normal" text-anchor="middle" fill="#2a2a2a" font-family='"Liberation Sans", sans-serif' >12</text>
<text x="161.80" y="122.59" font-size="5.0" font-weight="normal" text-anchor="middle" fill="#2a2a2a" font-family='"Liberation Sans", sans-serif' >7</text>
<text x="187.20" y="122.59" font-size="5.0" font-weight="normal" text-anchor="middle" fill="#2a2a2a" font-family='"Liberation Sans", sans-serif' >11</text>
<text x="212.80" y="122.59" font-size="5.0" font-weight="normal" text-anchor="middle" fill="#2a2a2a" font-family='"Liberation Sans", sans-serif' >11</text>
<text x="238.20" y="122.59" font-size="5.0" font-weight="normal" text-anchor="middle" fill="#2a2a2a" font-family='"Liberation Sans", sans-serif' >10</text>
<text x="263.55" y="122.59" font-size="5.0" font-weight="normal" text-anchor="middle" fill="#2a2a2a" font-family='"Liberation Sans", sans-serif' >12</text>
<text x="287.55" y="122.59" font-size="5.0" font-weight="normal" text-anchor="middle" fill="#2a2a2a" font-family='"Liberation Sans", sans-serif' >3</text>
<text x="309.75" y="122.59" font-size="5.0" font-weight="normal" text-anchor="middle" fill="#2a2a2a" font-family='"Liberation Sans", sans-serif' >4</text>
<text x="328.80" y="122.59" font-size="5.0" font-weight="normal" text-anchor="middle" fill="#2a2a2a" font-family='"Liberation Sans", sans-serif' >0</text>
<text x="347.35" y="122.59" font-size="5.0" font-weight="normal" text-anchor="middle" fill="#2a2a2a" font-family='"Liberation Sans", sans-serif' >9</text>
<text x="369.55" y="122.59" font-size="5.0" font-weight="normal" text-anchor="middle" fill="#2a2a2a" font-family='"Liberation Sans", sans-serif' >10</text>
<text x="392.90" y="122.59" font-size="5.0" font-weight="normal" text-anchor="middle" fill="#2a2a2a" font-family='"Liberation Sans", sans-serif' >6</text>
<text x="416.15" y="122.59" font-size="5.0" font-weight="normal" text-anchor="middle" fill="#2a2a2a" font-family='"Liberation Sans", sans-serif' >7</text>
<text x="439.40" y="122.59" font-size="5.0" font-weight="normal" text-anchor="middle" fill="#2a2a2a" font-family='"Liberation Sans", sans-serif' >7</text>
<text x="461.90" y="122.59" font-size="5.0" font-weight="normal" text-anchor="middle" fill="#2a2a2a" font-family='"Liberation Sans", sans-serif' >1</text>
<text x="484.25" y="122.59" font-size="5.0" font-weight="normal" text-anchor="middle" fill="#2a2a2a" font-family='"Liberation Sans", sans-serif' >8</text>
<text x="507.40" y="122.59" font-size="5.0" font-weight="normal" text-anchor="middle" fill="#2a2a2a" font-family='"Liberation Sans", sans-serif' >3</text>
<text x="84.30" y="134.10" font-size="5.3" font-weight="bold" text-anchor="middle" fill="#1a1a1a" font-family='"Liberation Sans", sans-serif' >Methylation density (%)</text>
<text x="136.35" y="137.79" font-size="5.0" font-weight="normal" text-anchor="middle" fill="#2a2a2a" font-family='"Liberation Sans", sans-serif' >16-86</text>
<text x="161.80" y="137.79" font-size="5.0" font-weight="normal" text-anchor="middle" fill="#2a2a2a" font-family='"Liberation Sans", sans-serif' >44-91</text>
<text x="187.20" y="137.79" font-size="5.0" font-weight="normal" text-anchor="middle" fill="#2a2a2a" font-family='"Liberation Sans", sans-serif' >51-93</text>
<text x="212.80" y="137.79" font-size="5.0" font-weight="normal" text-anchor="middle" fill="#2a2a2a" font-family='"Liberation Sans", sans-serif' >56-94</text>
<text x="238.20" y="137.79" font-size="5.0" font-weight="normal" text-anchor="middle" fill="#2a2a2a" font-family='"Liberation Sans", sans-serif' >23-75</text>
<text x="263.55" y="137.79" font-size="5.0" font-weight="normal" text-anchor="middle" fill="#2a2a2a" font-family='"Liberation Sans", sans-serif' >58-98</text>
<text x="287.55" y="137.79" font-size="5.0" font-weight="normal" text-anchor="middle" fill="#2a2a2a" font-family='"Liberation Sans", sans-serif' >38-76</text>
<text x="309.75" y="137.79" font-size="5.0" font-weight="normal" text-anchor="middle" fill="#2a2a2a" font-family='"Liberation Sans", sans-serif' >58-61</text>
<text x="328.80" y="137.79" font-size="5.0" font-weight="normal" text-anchor="middle" fill="#2a2a2a" font-family='"Liberation Sans", sans-serif' >0</text>
<text x="347.35" y="137.79" font-size="5.0" font-weight="normal" text-anchor="middle" fill="#2a2a2a" font-family='"Liberation Sans", sans-serif' >18-67</text>
<text x="369.55" y="137.79" font-size="5.0" font-weight="normal" text-anchor="middle" fill="#2a2a2a" font-family='"Liberation Sans", sans-serif' >22-97</text>
<text x="392.90" y="137.79" font-size="5.0" font-weight="normal" text-anchor="middle" fill="#2a2a2a" font-family='"Liberation Sans", sans-serif' >22-80</text>
<text x="416.15" y="137.79" font-size="5.0" font-weight="normal" text-anchor="middle" fill="#2a2a2a" font-family='"Liberation Sans", sans-serif' >45-98</text>
<text x="439.40" y="137.79" font-size="5.0" font-weight="normal" text-anchor="middle" fill="#2a2a2a" font-family='"Liberation Sans", sans-serif' >27-89</text>
<text x="461.90" y="137.79" font-size="5.0" font-weight="normal" text-anchor="middle" fill="#2a2a2a" font-family='"Liberation Sans", sans-serif' >20</text>
<text x="484.25" y="137.79" font-size="5.0" font-weight="normal" text-anchor="middle" fill="#2a2a2a" font-family='"Liberation Sans", sans-serif' >16-58</text>
<text x="507.40" y="137.79" font-size="5.0" font-weight="normal" text-anchor="middle" fill="#2a2a2a" font-family='"Liberation Sans", sans-serif' >42-67</text>
<text x="84.30" y="148.10" font-size="5.3" font-weight="bold" text-anchor="middle" fill="#1a1a1a" font-family='"Liberation Sans", sans-serif' >Methylation prevalence(%)</text>
<text x="136.35" y="154.10" font-size="5.6" font-weight="normal" text-anchor="middle" fill="#2a2a2a" font-family='"Liberation Serif", serif' >100</text>
<text x="161.80" y="154.10" font-size="5.6" font-weight="normal" text-anchor="middle" fill="#2a2a2a" font-family='"Liberation Serif", serif' >58</text>
<text x="187.20" y="154.10" font-size="5.6" font-weight="normal" text-anchor="middle" fill="#2a2a2a" font-family='"Liberation Serif", serif' >92</text>
<text x="212.80" y="154.10" font-size="5.6" font-weight="normal" text-anchor="middle" fill="#2a2a2a" font-family='"Liberation Serif", serif' >92</text>
<text x="238.20" y="154.10" font-size="5.6" font-weight="normal" text-anchor="middle" fill="#2a2a2a" font-family='"Liberation Serif", serif' >83</text>
<text x="263.55" y="154.10" font-size="5.6" font-weight="normal" text-anchor="middle" fill="#2a2a2a" font-family='"Liberation Serif", serif' >100</text>
<text x="287.55" y="154.10" font-size="5.6" font-weight="normal" text-anchor="middle" fill="#2a2a2a" font-family='"Liberation Serif", serif' >25</text>
<text x="309.75" y="154.10" font-size="5.6" font-weight="normal" text-anchor="middle" fill="#2a2a2a" font-family='"Liberation Serif", serif' >33</text>
<text x="328.80" y="154.10" font-size="5.6" font-weight="normal" text-anchor="middle" fill="#2a2a2a" font-family='"Liberation Serif", serif' >0</text>
<text x="347.35" y="154.10" font-size="5.6" font-weight="normal" text-anchor="middle" fill="#2a2a2a" font-family='"Liberation Serif", serif' >75</text>
<text x="369.55" y="154.10" font-size="5.6" font-weight="normal" text-anchor="middle" fill="#2a2a2a" font-family='"Liberation Serif", serif' >83</text>
<text x="392.90" y="154.10" font-size="5.6" font-weight="normal" text-anchor="middle" fill="#2a2a2a" font-family='"Liberation Serif", serif' >50</text>
<text x="416.15" y="154.10" font-size="5.6" font-weight="normal" text-anchor="middle" fill="#2a2a2a" font-family='"Liberation Serif", serif' >58</text>
<text x="439.40" y="154.10" font-size="5.6" font-weight="normal" text-anchor="middle" fill="#2a2a2a" font-family='"Liberation Serif", serif' >58</text>
<text x="461.90" y="154.10" font-size="5.6" font-weight="normal" text-anchor="middle" fill="#2a2a2a" font-family='"Liberation Serif", serif' >8</text>
<text x="484.25" y="154.10" font-size="5.6" font-weight="normal" text-anchor="middle" fill="#2a2a2a" font-family='"Liberation Serif", serif' >67</text>
<text x="507.40" y="154.10" font-size="5.6" font-weight="normal" text-anchor="middle" fill="#2a2a2a" font-family='"Liberation Serif", serif' >25</text>
<text x="84.30" y="174.22" font-size="5.2" font-weight="bold" text-anchor="middle" fill="#1a1a1a" font-family='"Liberation Sans", sans-serif' >B-1</text>
<text x="136.35" y="174.15" font-size="5.0" font-weight="normal" text-anchor="middle" fill="#0a500a" font-family='"Liberation Sans", sans-serif' >11</text>
<text x="161.80" y="174.15" font-size="5.0" font-weight="normal" text-anchor="middle" fill="#0a500a" font-family='"Liberation Sans", sans-serif' >8.2</text>
<text x="187.20" y="174.15" font-size="5.0" font-weight="normal" text-anchor="middle" fill="#0a500a" font-family='"Liberation Sans", sans-serif' >5.4</text>
<text x="212.80" y="174.15" font-size="5.0" font-weight="normal" text-anchor="middle" fill="#0a500a" font-family='"Liberation Sans", sans-serif' >4.3</text>
<text x="238.20" y="174.15" font-size="5.0" font-weight="normal" text-anchor="middle" fill="#0a500a" font-family='"Liberation Sans", sans-serif' >4.0</text>
<text x="263.55" y="174.15" font-size="5.0" font-weight="normal" text-anchor="middle" fill="#0a500a" font-family='"Liberation Sans", sans-serif' >12.6</text>
<text x="287.55" y="174.15" font-size="5.0" font-weight="normal" text-anchor="middle" fill="#0a500a" font-family='"Liberation Sans", sans-serif' >3.7</text>
<text x="309.75" y="174.15" font-size="5.0" font-weight="normal" text-anchor="middle" fill="#0a500a" font-family='"Liberation Sans", sans-serif' >8.8</text>
<text x="328.80" y="174.15" font-size="5.0" font-weight="normal" text-anchor="middle" fill="#0a500a" font-family='"Liberation Sans", sans-serif' >7.8</text>
<text x="347.35" y="174.15" font-size="5.0" font-weight="normal" text-anchor="middle" fill="#0a500a" font-family='"Liberation Sans", sans-serif' >4.9</text>
<text x="369.55" y="174.15" font-size="5.0" font-weight="normal" text-anchor="middle" fill="#0a500a" font-family='"Liberation Sans", sans-serif' >3.3</text>
<text x="392.90" y="174.15" font-size="5.0" font-weight="normal" text-anchor="middle" fill="#0a500a" font-family='"Liberation Sans", sans-serif' >8.7</text>
<text x="416.15" y="174.15" font-size="5.0" font-weight="normal" text-anchor="middle" fill="#0a500a" font-family='"Liberation Sans", sans-serif' >2.6</text>
<text x="439.40" y="174.15" font-size="5.0" font-weight="normal" text-anchor="middle" fill="#0a500a" font-family='"Liberation Sans", sans-serif' >2.1</text>
<text x="461.90" y="174.15" font-size="5.0" font-weight="normal" text-anchor="middle" fill="#0a500a" font-family='"Liberation Sans", sans-serif' >2.3</text>
<text x="484.25" y="174.15" font-size="5.0" font-weight="normal" text-anchor="middle" fill="#0a500a" font-family='"Liberation Sans", sans-serif' >4.5</text>
<text x="507.40" y="174.15" font-size="5.0" font-weight="normal" text-anchor="middle" fill="#0a500a" font-family='"Liberation Sans", sans-serif' >3.1</text>
<text x="84.30" y="181.94" font-size="5.2" font-weight="bold" text-anchor="middle" fill="#1a1a1a" font-family='"Liberation Sans", sans-serif' >B-2</text>
<text x="136.35" y="181.87" font-size="5.0" font-weight="normal" text-anchor="middle" fill="#0a500a" font-family='"Liberation Sans", sans-serif' >5.8</text>
<text x="161.80" y="181.87" font-size="5.0" font-weight="normal" text-anchor="middle" fill="#0a500a" font-family='"Liberation Sans", sans-serif' >8.4</text>
<text x="187.20" y="181.87" font-size="5.0" font-weight="normal" text-anchor="middle" fill="#0a500a" font-family='"Liberation Sans", sans-serif' >14.6</text>
<text x="212.80" y="181.87" font-size="5.0" font-weight="normal" text-anchor="middle" fill="#0a500a" font-family='"Liberation Sans", sans-serif' >2.9</text>
<text x="238.20" y="181.87" font-size="5.0" font-weight="normal" text-anchor="middle" fill="#0a500a" font-family='"Liberation Sans", sans-serif' >5.6</text>
<text x="263.55" y="181.87" font-size="5.0" font-weight="normal" text-anchor="middle" fill="#0a500a" font-family='"Liberation Sans", sans-serif' >8.5</text>
<text x="287.55" y="181.87" font-size="5.0" font-weight="normal" text-anchor="middle" fill="#0a500a" font-family='"Liberation Sans", sans-serif' >14.2</text>
<text x="309.75" y="181.87" font-size="5.0" font-weight="normal" text-anchor="middle" fill="#0a500a" font-family='"Liberation Sans", sans-serif' >5.9</text>
<text x="328.80" y="181.87" font-size="5.0" font-weight="normal" text-anchor="middle" fill="#0a500a" font-family='"Liberation Sans", sans-serif' >1.4</text>
<text x="347.35" y="181.87" font-size="5.0" font-weight="normal" text-anchor="middle" fill="#0a500a" font-family='"Liberation Sans", sans-serif' >10.8</text>
<text x="369.55" y="181.87" font-size="5.0" font-weight="normal" text-anchor="middle" fill="#0a500a" font-family='"Liberation Sans", sans-serif' >3.4</text>
<text x="392.90" y="181.87" font-size="5.0" font-weight="normal" text-anchor="middle" fill="#0a500a" font-family='"Liberation Sans", sans-serif' >4.8</text>
<text x="416.15" y="181.87" font-size="5.0" font-weight="normal" text-anchor="middle" fill="#0a500a" font-family='"Liberation Sans", sans-serif' >1.6</text>
<text x="439.40" y="181.87" font-size="5.0" font-weight="normal" text-anchor="middle" fill="#0a500a" font-family='"Liberation Sans", sans-serif' >8.7</text>
<text x="461.90" y="181.87" font-size="5.0" font-weight="normal" text-anchor="middle" fill="#0a500a" font-family='"Liberation Sans", sans-serif' >3.3</text>
<text x="484.25" y="181.87" font-size="5.0" font-weight="normal" text-anchor="middle" fill="#0a500a" font-family='"Liberation Sans", sans-serif' >7.7</text>
<text x="507.40" y="181.87" font-size="5.0" font-weight="normal" text-anchor="middle" fill="#0a500a" font-family='"Liberation Sans", sans-serif' >2.8</text>
<text x="84.30" y="189.66" font-size="5.2" font-weight="bold" text-anchor="middle" fill="#1a1a1a" font-family='"Liberation Sans", sans-serif' >B-3</text>
<text x="136.35" y="189.59" font-size="5.0" font-weight="normal" text-anchor="middle" fill="#0a500a" font-family='"Liberation Sans", sans-serif' >4.4</text>
<text x="161.80" y="189.59" font-size="5.0" font-weight="normal" text-anchor="middle" fill="#0a500a" font-family='"Liberation Sans", sans-serif' >7.7</text>
<text x="187.20" y="189.59" font-size="5.0" font-weight="normal" text-anchor="middle" fill="#0a500a" font-family='"Liberation Sans", sans-serif' >5.4</text>
<text x="212.80" y="189.59" font-size="5.0" font-weight="normal" text-anchor="middle" fill="#0a500a" font-family='"Liberation Sans", sans-serif' >4.1</text>
<text x="238.20" y="189.59" font-size="5.0" font-weight="normal" text-anchor="middle" fill="#0a500a" font-family='"Liberation Sans", sans-serif' >3.3</text>
<text x="263.55" y="189.59" font-size="5.0" font-weight="normal" text-anchor="middle" fill="#0a500a" font-family='"Liberation Sans", sans-serif' >9.4</text>
<text x="287.55" y="189.59" font-size="5.0" font-weight="normal" text-anchor="middle" fill="#0a500a" font-family='"Liberation Sans", sans-serif' >7.7</text>
<text x="309.75" y="189.59" font-size="5.0" font-weight="normal" text-anchor="middle" fill="#0a500a" font-family='"Liberation Sans", sans-serif' >1.6</text>
<text x="328.80" y="189.59" font-size="5.0" font-weight="normal" text-anchor="middle" fill="#0a500a" font-family='"Liberation Sans", sans-serif' >2.8</text>
<text x="347.35" y="189.59" font-size="5.0" font-weight="normal" text-anchor="middle" fill="#0a500a" font-family='"Liberation Sans", sans-serif' >13.5</text>
<text x="369.55" y="189.59" font-size="5.0" font-weight="normal" text-anchor="middle" fill="#0a500a" font-family='"Liberation Sans", sans-serif' >5.1</text>
<text x="392.90" y="189.59" font-size="5.0" font-weight="normal" text-anchor="middle" fill="#0a500a" font-family='"Liberation Sans", sans-serif' >14.7</text>
<text x="416.15" y="189.59" font-size="5.0" font-weight="normal" text-anchor="middle" fill="#0a500a" font-family='"Liberation Sans", sans-serif' >12.2</text>
<text x="439.40" y="189.59" font-size="5.0" font-weight="normal" text-anchor="middle" fill="#0a500a" font-family='"Liberation Sans", sans-serif' >5.8</text>
<text x="461.90" y="189.59" font-size="5.0" font-weight="normal" text-anchor="middle" fill="#0a500a" font-family='"Liberation Sans", sans-serif' >3.8</text>
<text x="484.25" y="189.59" font-size="5.0" font-weight="normal" text-anchor="middle" fill="#0a500a" font-family='"Liberation Sans", sans-serif' >6.5</text>
<text x="507.40" y="189.59" font-size="5.0" font-weight="normal" text-anchor="middle" fill="#0a500a" font-family='"Liberation Sans", sans-serif' >7.3</text>
<text x="84.30" y="197.38" font-size="5.2" font-weight="bold" text-anchor="middle" fill="#1a1a1a" font-family='"Liberation Sans", sans-serif' >B-4</text>
<text x="136.35" y="197.31" font-size="5.0" font-weight="normal" text-anchor="middle" fill="#0a500a" font-family='"Liberation Sans", sans-serif' >6.0</text>
<text x="161.80" y="197.31" font-size="5.0" font-weight="normal" text-anchor="middle" fill="#0a500a" font-family='"Liberation Sans", sans-serif' >6.1</text>
<text x="187.20" y="197.31" font-size="5.0" font-weight="normal" text-anchor="middle" fill="#0a500a" font-family='"Liberation Sans", sans-serif' >13.5</text>
<text x="212.80" y="197.31" font-size="5.0" font-weight="normal" text-anchor="middle" fill="#0a500a" font-family='"Liberation Sans", sans-serif' >8.9</text>
<text x="238.20" y="197.31" font-size="5.0" font-weight="normal" text-anchor="middle" fill="#0a500a" font-family='"Liberation Sans", sans-serif' >4.6</text>
<text x="263.55" y="197.31" font-size="5.0" font-weight="normal" text-anchor="middle" fill="#0a500a" font-family='"Liberation Sans", sans-serif' >7.6</text>
<text x="287.55" y="197.31" font-size="5.0" font-weight="normal" text-anchor="middle" fill="#0a500a" font-family='"Liberation Sans", sans-serif' >4.7</text>
<text x="309.75" y="197.31" font-size="5.0" font-weight="normal" text-anchor="middle" fill="#0a500a" font-family='"Liberation Sans", sans-serif' >1.6</text>
<text x="328.80" y="197.31" font-size="5.0" font-weight="normal" text-anchor="middle" fill="#0a500a" font-family='"Liberation Sans", sans-serif' >1.4</text>
<text x="347.35" y="197.31" font-size="5.0" font-weight="normal" text-anchor="middle" fill="#0a500a" font-family='"Liberation Sans", sans-serif' >12</text>
<text x="369.55" y="197.31" font-size="5.0" font-weight="normal" text-anchor="middle" fill="#0a500a" font-family='"Liberation Sans", sans-serif' >6.1</text>
<text x="392.90" y="197.31" font-size="5.0" font-weight="normal" text-anchor="middle" fill="#0a500a" font-family='"Liberation Sans", sans-serif' >5.7</text>
<text x="416.15" y="197.31" font-size="5.0" font-weight="normal" text-anchor="middle" fill="#0a500a" font-family='"Liberation Sans", sans-serif' >7.6</text>
<text x="439.40" y="197.31" font-size="5.0" font-weight="normal" text-anchor="middle" fill="#0a500a" font-family='"Liberation Sans", sans-serif' >2.6</text>
<text x="461.90" y="197.31" font-size="5.0" font-weight="normal" text-anchor="middle" fill="#0a500a" font-family='"Liberation Sans", sans-serif' >4.5</text>
<text x="484.25" y="197.31" font-size="5.0" font-weight="normal" text-anchor="middle" fill="#0a500a" font-family='"Liberation Sans", sans-serif' >4.8</text>
<text x="507.40" y="197.31" font-size="5.0" font-weight="normal" text-anchor="middle" fill="#0a500a" font-family='"Liberation Sans", sans-serif' >4.6</text>
<text x="84.30" y="205.10" font-size="5.2" font-weight="bold" text-anchor="middle" fill="#1a1a1a" font-family='"Liberation Sans", sans-serif' >B-5</text>
<text x="136.35" y="205.03" font-size="5.0" font-weight="normal" text-anchor="middle" fill="#0a500a" font-family='"Liberation Sans", sans-serif' >2.2</text>
<text x="161.80" y="205.03" font-size="5.0" font-weight="normal" text-anchor="middle" fill="#0a500a" font-family='"Liberation Sans", sans-serif' >11.8</text>
<text x="187.20" y="205.03" font-size="5.0" font-weight="normal" text-anchor="middle" fill="#0a500a" font-family='"Liberation Sans", sans-serif' >12.9</text>
<text x="212.80" y="205.03" font-size="5.0" font-weight="normal" text-anchor="middle" fill="#0a500a" font-family='"Liberation Sans", sans-serif' >10.1</text>
<text x="238.20" y="205.03" font-size="5.0" font-weight="normal" text-anchor="middle" fill="#0a500a" font-family='"Liberation Sans", sans-serif' >7.4</text>
<text x="263.55" y="205.03" font-size="5.0" font-weight="normal" text-anchor="middle" fill="#0a500a" font-family='"Liberation Sans", sans-serif' >12.3</text>
<text x="287.55" y="205.03" font-size="5.0" font-weight="normal" text-anchor="middle" fill="#0a500a" font-family='"Liberation Sans", sans-serif' >12.7</text>
<text x="309.75" y="205.03" font-size="5.0" font-weight="normal" text-anchor="middle" fill="#0a500a" font-family='"Liberation Sans", sans-serif' >2.4</text>
<text x="328.80" y="205.03" font-size="5.0" font-weight="normal" text-anchor="middle" fill="#0a500a" font-family='"Liberation Sans", sans-serif' >1.7</text>
<text x="347.35" y="205.03" font-size="5.0" font-weight="normal" text-anchor="middle" fill="#0a500a" font-family='"Liberation Sans", sans-serif' >9.5</text>
<text x="369.55" y="205.03" font-size="5.0" font-weight="normal" text-anchor="middle" fill="#0a500a" font-family='"Liberation Sans", sans-serif' >14.2</text>
<text x="392.90" y="205.03" font-size="5.0" font-weight="normal" text-anchor="middle" fill="#0a500a" font-family='"Liberation Sans", sans-serif' >11.6</text>
<text x="416.15" y="205.03" font-size="5.0" font-weight="normal" text-anchor="middle" fill="#0a500a" font-family='"Liberation Sans", sans-serif' >14.8</text>
<text x="439.40" y="205.03" font-size="5.0" font-weight="normal" text-anchor="middle" fill="#0a500a" font-family='"Liberation Sans", sans-serif' >5.6</text>
<text x="461.90" y="205.03" font-size="5.0" font-weight="normal" text-anchor="middle" fill="#0a500a" font-family='"Liberation Sans", sans-serif' >1.3</text>
<text x="484.25" y="205.03" font-size="5.0" font-weight="normal" text-anchor="middle" fill="#0a500a" font-family='"Liberation Sans", sans-serif' >9.1</text>
<text x="507.40" y="205.03" font-size="5.0" font-weight="normal" text-anchor="middle" fill="#0a500a" font-family='"Liberation Sans", sans-serif' >13.7</text>
<text x="84.30" y="212.82" font-size="5.2" font-weight="bold" text-anchor="middle" fill="#1a1a1a" font-family='"Liberation Sans", sans-serif' >B-6</text>
<text x="136.35" y="212.75" font-size="5.0" font-weight="normal" text-anchor="middle" fill="#0a500a" font-family='"Liberation Sans", sans-serif' >13.0</text>
<text x="161.80" y="212.75" font-size="5.0" font-weight="normal" text-anchor="middle" fill="#0a500a" font-family='"Liberation Sans", sans-serif' >4.7</text>
<text x="187.20" y="212.75" font-size="5.0" font-weight="normal" text-anchor="middle" fill="#0a500a" font-family='"Liberation Sans", sans-serif' >12.4</text>
<text x="212.80" y="212.75" font-size="5.0" font-weight="normal" text-anchor="middle" fill="#0a500a" font-family='"Liberation Sans", sans-serif' >3.8</text>
<text x="238.20" y="212.75" font-size="5.0" font-weight="normal" text-anchor="middle" fill="#0a500a" font-family='"Liberation Sans", sans-serif' >4.2</text>
<text x="263.55" y="212.75" font-size="5.0" font-weight="normal" text-anchor="middle" fill="#0a500a" font-family='"Liberation Sans", sans-serif' >6.2</text>
<text x="287.55" y="212.75" font-size="5.0" font-weight="normal" text-anchor="middle" fill="#0a500a" font-family='"Liberation Sans", sans-serif' >2.9</text>
<text x="309.75" y="212.75" font-size="5.0" font-weight="normal" text-anchor="middle" fill="#0a500a" font-family='"Liberation Sans", sans-serif' >1.3</text>
<text x="328.80" y="212.75" font-size="5.0" font-weight="normal" text-anchor="middle" fill="#0a500a" font-family='"Liberation Sans", sans-serif' >1.5</text>
<text x="347.35" y="212.75" font-size="5.0" font-weight="normal" text-anchor="middle" fill="#0a500a" font-family='"Liberation Sans", sans-serif' >14.5</text>
<text x="369.55" y="212.75" font-size="5.0" font-weight="normal" text-anchor="middle" fill="#0a500a" font-family='"Liberation Sans", sans-serif' >4.0</text>
<text x="392.90" y="212.75" font-size="5.0" font-weight="normal" text-anchor="middle" fill="#0a500a" font-family='"Liberation Sans", sans-serif' >6.7</text>
<text x="416.15" y="212.75" font-size="5.0" font-weight="normal" text-anchor="middle" fill="#0a500a" font-family='"Liberation Sans", sans-serif' >4.1</text>
<text x="439.40" y="212.75" font-size="5.0" font-weight="normal" text-anchor="middle" fill="#0a500a" font-family='"Liberation Sans", sans-serif' >3.4</text>
<text x="461.90" y="212.75" font-size="5.0" font-weight="normal" text-anchor="middle" fill="#0a500a" font-family='"Liberation Sans", sans-serif' >11.7</text>
<text x="484.25" y="212.75" font-size="5.0" font-weight="normal" text-anchor="middle" fill="#0a500a" font-family='"Liberation Sans", sans-serif' >6.4</text>
<text x="507.40" y="212.75" font-size="5.0" font-weight="normal" text-anchor="middle" fill="#0a500a" font-family='"Liberation Sans", sans-serif' >8.0</text>
<text x="84.30" y="220.54" font-size="5.2" font-weight="bold" text-anchor="middle" fill="#1a1a1a" font-family='"Liberation Sans", sans-serif' >B-7</text>
<text x="136.35" y="220.47" font-size="5.0" font-weight="normal" text-anchor="middle" fill="#0a500a" font-family='"Liberation Sans", sans-serif' >9.1</text>
<text x="161.80" y="220.47" font-size="5.0" font-weight="normal" text-anchor="middle" fill="#0a500a" font-family='"Liberation Sans", sans-serif' >10.6</text>
<text x="187.20" y="220.47" font-size="5.0" font-weight="normal" text-anchor="middle" fill="#0a500a" font-family='"Liberation Sans", sans-serif' >12.4</text>
<text x="212.80" y="220.47" font-size="5.0" font-weight="normal" text-anchor="middle" fill="#0a500a" font-family='"Liberation Sans", sans-serif' >13.4</text>
<text x="238.20" y="220.47" font-size="5.0" font-weight="normal" text-anchor="middle" fill="#0a500a" font-family='"Liberation Sans", sans-serif' >5.8</text>
<text x="263.55" y="220.47" font-size="5.0" font-weight="normal" text-anchor="middle" fill="#0a500a" font-family='"Liberation Sans", sans-serif' >12.0</text>
<text x="287.55" y="220.47" font-size="5.0" font-weight="normal" text-anchor="middle" fill="#0a500a" font-family='"Liberation Sans", sans-serif' >14.8</text>
<text x="309.75" y="220.47" font-size="5.0" font-weight="normal" text-anchor="middle" fill="#0a500a" font-family='"Liberation Sans", sans-serif' >5.4</text>
<text x="328.80" y="220.47" font-size="5.0" font-weight="normal" text-anchor="middle" fill="#0a500a" font-family='"Liberation Sans", sans-serif' >2.1</text>
<text x="347.35" y="220.47" font-size="5.0" font-weight="normal" text-anchor="middle" fill="#0a500a" font-family='"Liberation Sans", sans-serif' >8</text>
<text x="369.55" y="220.47" font-size="5.0" font-weight="normal" text-anchor="middle" fill="#0a500a" font-family='"Liberation Sans", sans-serif' >13.4</text>
<text x="392.90" y="220.47" font-size="5.0" font-weight="normal" text-anchor="middle" fill="#0a500a" font-family='"Liberation Sans", sans-serif' >11.1</text>
<text x="416.15" y="220.47" font-size="5.0" font-weight="normal" text-anchor="middle" fill="#0a500a" font-family='"Liberation Sans", sans-serif' >5.2</text>
<text x="439.40" y="220.47" font-size="5.0" font-weight="normal" text-anchor="middle" fill="#0a500a" font-family='"Liberation Sans", sans-serif' >1.0</text>
<text x="461.90" y="220.47" font-size="5.0" font-weight="normal" text-anchor="middle" fill="#0a500a" font-family='"Liberation Sans", sans-serif' >4.7</text>
<text x="484.25" y="220.47" font-size="5.0" font-weight="normal" text-anchor="middle" fill="#0a500a" font-family='"Liberation Sans", sans-serif' >1.4</text>
<text x="507.40" y="220.47" font-size="5.0" font-weight="normal" text-anchor="middle" fill="#0a500a" font-family='"Liberation Sans", sans-serif' >7.2</text>
<text x="84.30" y="228.26" font-size="5.2" font-weight="bold" text-anchor="middle" fill="#1a1a1a" font-family='"Liberation Sans", sans-serif' >B-8</text>
<text x="136.35" y="228.19" font-size="5.0" font-weight="normal" text-anchor="middle" fill="#0a500a" font-family='"Liberation Sans", sans-serif' >5.4</text>
<text x="161.80" y="228.19" font-size="5.0" font-weight="normal" text-anchor="middle" fill="#0a500a" font-family='"Liberation Sans", sans-serif' >5.3</text>
<text x="187.20" y="228.19" font-size="5.0" font-weight="normal" text-anchor="middle" fill="#0a500a" font-family='"Liberation Sans", sans-serif' >13.6</text>
<text x="212.80" y="228.19" font-size="5.0" font-weight="normal" text-anchor="middle" fill="#0a500a" font-family='"Liberation Sans", sans-serif' >7.1</text>
<text x="238.20" y="228.19" font-size="5.0" font-weight="normal" text-anchor="middle" fill="#0a500a" font-family='"Liberation Sans", sans-serif' >5.9</text>
<text x="263.55" y="228.19" font-size="5.0" font-weight="normal" text-anchor="middle" fill="#0a500a" font-family='"Liberation Sans", sans-serif' >7.3</text>
<text x="287.55" y="228.19" font-size="5.0" font-weight="normal" text-anchor="middle" fill="#0a500a" font-family='"Liberation Sans", sans-serif' >11.0</text>
<text x="309.75" y="228.19" font-size="5.0" font-weight="normal" text-anchor="middle" fill="#0a500a" font-family='"Liberation Sans", sans-serif' >2.5</text>
<text x="328.80" y="228.19" font-size="5.0" font-weight="normal" text-anchor="middle" fill="#0a500a" font-family='"Liberation Sans", sans-serif' >1.8</text>
<text x="347.35" y="228.19" font-size="5.0" font-weight="normal" text-anchor="middle" fill="#0a500a" font-family='"Liberation Sans", sans-serif' >13</text>
<text x="369.55" y="228.19" font-size="5.0" font-weight="normal" text-anchor="middle" fill="#0a500a" font-family='"Liberation Sans", sans-serif' >8.1</text>
<text x="392.90" y="228.19" font-size="5.0" font-weight="normal" text-anchor="middle" fill="#0a500a" font-family='"Liberation Sans", sans-serif' >4.1</text>
<text x="416.15" y="228.19" font-size="5.0" font-weight="normal" text-anchor="middle" fill="#0a500a" font-family='"Liberation Sans", sans-serif' >3.1</text>
<text x="439.40" y="228.19" font-size="5.0" font-weight="normal" text-anchor="middle" fill="#0a500a" font-family='"Liberation Sans", sans-serif' >1.5</text>
<text x="461.90" y="228.19" font-size="5.0" font-weight="normal" text-anchor="middle" fill="#0a500a" font-family='"Liberation Sans", sans-serif' >5.8</text>
<text x="484.25" y="228.19" font-size="5.0" font-weight="normal" text-anchor="middle" fill="#0a500a" font-family='"Liberation Sans", sans-serif' >4.3</text>
<text x="507.40" y="228.19" font-size="5.0" font-weight="normal" text-anchor="middle" fill="#0a500a" font-family='"Liberation Sans", sans-serif' >1.9</text>
<text x="84.30" y="235.98" font-size="5.2" font-weight="bold" text-anchor="middle" fill="#1a1a1a" font-family='"Liberation Sans", sans-serif' >B-9</text>
<text x="136.35" y="235.91" font-size="5.0" font-weight="normal" text-anchor="middle" fill="#0a500a" font-family='"Liberation Sans", sans-serif' >4.9</text>
<text x="161.80" y="235.91" font-size="5.0" font-weight="normal" text-anchor="middle" fill="#0a500a" font-family='"Liberation Sans", sans-serif' >6.8</text>
<text x="187.20" y="235.91" font-size="5.0" font-weight="normal" text-anchor="middle" fill="#0a500a" font-family='"Liberation Sans", sans-serif' >2.1</text>
<text x="212.80" y="235.91" font-size="5.0" font-weight="normal" text-anchor="middle" fill="#0a500a" font-family='"Liberation Sans", sans-serif' >11.6</text>
<text x="238.20" y="235.91" font-size="5.0" font-weight="normal" text-anchor="middle" fill="#0a500a" font-family='"Liberation Sans", sans-serif' >2.8</text>
<text x="263.55" y="235.91" font-size="5.0" font-weight="normal" text-anchor="middle" fill="#3a3a00" font-family='"Liberation Sans", sans-serif' >27.1</text>
<text x="287.55" y="235.91" font-size="5.0" font-weight="normal" text-anchor="middle" fill="#0a500a" font-family='"Liberation Sans", sans-serif' >2.4</text>
<text x="309.75" y="235.91" font-size="5.0" font-weight="normal" text-anchor="middle" fill="#0a500a" font-family='"Liberation Sans", sans-serif' >1.2</text>
<text x="328.80" y="235.91" font-size="5.0" font-weight="normal" text-anchor="middle" fill="#0a500a" font-family='"Liberation Sans", sans-serif' >3.2</text>
<text x="347.35" y="235.91" font-size="5.0" font-weight="normal" text-anchor="middle" fill="#0a500a" font-family='"Liberation Sans", sans-serif' >6.0</text>
<text x="369.55" y="235.91" font-size="5.0" font-weight="normal" text-anchor="middle" fill="#0a500a" font-family='"Liberation Sans", sans-serif' >2.9</text>
<text x="392.90" y="235.91" font-size="5.0" font-weight="normal" text-anchor="middle" fill="#0a500a" font-family='"Liberation Sans", sans-serif' >2.8</text>
<text x="416.15" y="235.91" font-size="5.0" font-weight="normal" text-anchor="middle" fill="#0a500a" font-family='"Liberation Sans", sans-serif' >7.9</text>
<text x="439.40" y="235.91" font-size="5.0" font-weight="normal" text-anchor="middle" fill="#0a500a" font-family='"Liberation Sans", sans-serif' >1.1</text>
<text x="461.90" y="235.91" font-size="5.0" font-weight="normal" text-anchor="middle" fill="#0a500a" font-family='"Liberation Sans", sans-serif' >6.2</text>
<text x="484.25" y="235.91" font-size="5.0" font-weight="normal" text-anchor="middle" fill="#0a500a" font-family='"Liberation Sans", sans-serif' >10.0</text>
<text x="507.40" y="235.91" font-size="5.0" font-weight="normal" text-anchor="middle" fill="#0a500a" font-family='"Liberation Sans", sans-serif' >10.8</text>
<text x="84.30" y="243.70" font-size="5.2" font-weight="bold" text-anchor="middle" fill="#1a1a1a" font-family='"Liberation Sans", sans-serif' >B-10</text>
<text x="136.35" y="243.63" font-size="5.0" font-weight="normal" text-anchor="middle" fill="#0a500a" font-family='"Liberation Sans", sans-serif' >8.0</text>
<text x="161.80" y="243.63" font-size="5.0" font-weight="normal" text-anchor="middle" fill="#0a500a" font-family='"Liberation Sans", sans-serif' >3.8</text>
<text x="187.20" y="243.63" font-size="5.0" font-weight="normal" text-anchor="middle" fill="#0a500a" font-family='"Liberation Sans", sans-serif' >5.8</text>
<text x="212.80" y="243.63" font-size="5.0" font-weight="normal" text-anchor="middle" fill="#0a500a" font-family='"Liberation Sans", sans-serif' >3.4</text>
<text x="238.20" y="243.63" font-size="5.0" font-weight="normal" text-anchor="middle" fill="#0a500a" font-family='"Liberation Sans", sans-serif' >5.6</text>
<text x="263.55" y="243.63" font-size="5.0" font-weight="normal" text-anchor="middle" fill="#0a500a" font-family='"Liberation Sans", sans-serif' >9.1</text>
<text x="287.55" y="243.63" font-size="5.0" font-weight="normal" text-anchor="middle" fill="#0a500a" font-family='"Liberation Sans", sans-serif' >4.1</text>
<text x="309.75" y="243.63" font-size="5.0" font-weight="normal" text-anchor="middle" fill="#0a500a" font-family='"Liberation Sans", sans-serif' >5.0</text>
<text x="328.80" y="243.63" font-size="5.0" font-weight="normal" text-anchor="middle" fill="#0a500a" font-family='"Liberation Sans", sans-serif' >2.9</text>
<text x="347.35" y="243.63" font-size="5.0" font-weight="normal" text-anchor="middle" fill="#0a500a" font-family='"Liberation Sans", sans-serif' >11.0</text>
<text x="369.55" y="243.63" font-size="5.0" font-weight="normal" text-anchor="middle" fill="#0a500a" font-family='"Liberation Sans", sans-serif' >4.0</text>
<text x="392.90" y="243.63" font-size="5.0" font-weight="normal" text-anchor="middle" fill="#0a500a" font-family='"Liberation Sans", sans-serif' >5.6</text>
<text x="416.15" y="243.63" font-size="5.0" font-weight="normal" text-anchor="middle" fill="#0a500a" font-family='"Liberation Sans", sans-serif' >6.4</text>
<text x="439.40" y="243.63" font-size="5.0" font-weight="normal" text-anchor="middle" fill="#0a500a" font-family='"Liberation Sans", sans-serif' >7.4</text>
<text x="461.90" y="243.63" font-size="5.0" font-weight="normal" text-anchor="middle" fill="#0a500a" font-family='"Liberation Sans", sans-serif' >8.7</text>
<text x="484.25" y="243.63" font-size="5.0" font-weight="normal" text-anchor="middle" fill="#0a500a" font-family='"Liberation Sans", sans-serif' >5.3</text>
<text x="507.40" y="243.63" font-size="5.0" font-weight="normal" text-anchor="middle" fill="#0a500a" font-family='"Liberation Sans", sans-serif' >5.8</text>
<text x="84.30" y="250.80" font-size="5.3" font-weight="bold" text-anchor="middle" fill="#1a1a1a" font-family='"Liberation Sans", sans-serif' >Total Number Studied</text>
<text x="136.35" y="258.65" font-size="4.6" font-weight="normal" text-anchor="middle" fill="#2a2a2a" font-family='"Liberation Sans", sans-serif' >10</text>
<text x="161.80" y="258.65" font-size="4.6" font-weight="normal" text-anchor="middle" fill="#2a2a2a" font-family='"Liberation Sans", sans-serif' >10</text>
<text x="187.20" y="258.65" font-size="4.6" font-weight="normal" text-anchor="middle" fill="#2a2a2a" font-family='"Liberation Sans", sans-serif' >10</text>
<text x="212.80" y="258.65" font-size="4.6" font-weight="normal" text-anchor="middle" fill="#2a2a2a" font-family='"Liberation Sans", sans-serif' >10</text>
<text x="238.20" y="258.65" font-size="4.6" font-weight="normal" text-anchor="middle" fill="#2a2a2a" font-family='"Liberation Sans", sans-serif' >10</text>
<text x="263.55" y="258.65" font-size="4.6" font-weight="normal" text-anchor="middle" fill="#2a2a2a" font-family='"Liberation Sans", sans-serif' >10</text>
<text x="287.55" y="258.65" font-size="4.6" font-weight="normal" text-anchor="middle" fill="#2a2a2a" font-family='"Liberation Sans", sans-serif' >10</text>
<text x="309.75" y="258.65" font-size="4.6" font-weight="normal" text-anchor="middle" fill="#2a2a2a" font-family='"Liberation Sans", sans-serif' >10</text>
<text x="328.80" y="258.65" font-size="4.6" font-weight="normal" text-anchor="middle" fill="#2a2a2a" font-family='"Liberation Sans", sans-serif' >10</text>
<text x="347.35" y="258.65" font-size="4.6" font-weight="normal" text-anchor="middle" fill="#2a2a2a" font-family='"Liberation Sans", sans-serif' >10</text>
<text x="369.55" y="258.65" font-size="4.6" font-weight="normal" text-anchor="middle" fill="#2a2a2a" font-family='"Liberation Sans", sans-serif' >10</text>
<text x="392.90" y="258.65" font-size="4.6" font-weight="normal" text-anchor="middle" fill="#2a2a2a" font-family='"Liberation Sans", sans-serif' >10</text>
<text x="416.15" y="258.65" font-size="4.6" font-weight="normal" text-anchor="middle" fill="#2a2a2a" font-family='"Liberation Sans", sans-serif' >10</text>
<text x="439.40" y="258.65" font-size="4.6" font-weight="normal" text-anchor="middle" fill="#2a2a2a" font-family='"Liberation Sans", sans-serif' >10</text>
<text x="461.90" y="258.65" font-size="4.6" font-weight="normal" text-anchor="middle" fill="#2a2a2a" font-family='"Liberation Sans", sans-serif' >10</text>
<text x="484.25" y="258.65" font-size="4.6" font-weight="normal" text-anchor="middle" fill="#2a2a2a" font-family='"Liberation Sans", sans-serif' >10</text>
<text x="507.40" y="258.65" font-size="4.6" font-weight="normal" text-anchor="middle" fill="#2a2a2a" font-family='"Liberation Sans", sans-serif' >10</text>
<text x="84.30" y="265.70" font-size="5.3" font-weight="bold" text-anchor="middle" fill="#1a1a1a" font-family='"Liberation Sans", sans-serif' >Methylation prevalence(%)</text>
<text x="136.35" y="274.85" font-size="4.6" font-weight="normal" text-anchor="middle" fill="#2a2a2a" font-family='"Liberation Sans", sans-serif' >0</text>
<text x="161.80" y="274.85" font-size="4.6" font-weight="normal" text-anchor="middle" fill="#2a2a2a" font-family='"Liberation Sans", sans-serif' >0</text>
<text x="187.20" y="274.85" font-size="4.6" font-weight="normal" text-anchor="middle" fill="#2a2a2a" font-family='"Liberation Sans", sans-serif' >0</text>
<text x="212.80" y="274.85" font-size="4.6" font-weight="normal" text-anchor="middle" fill="#2a2a2a" font-family='"Liberation Sans", sans-serif' >0</text>
<text x="238.20" y="274.85" font-size="4.6" font-weight="normal" text-anchor="middle" fill="#2a2a2a" font-family='"Liberation Sans", sans-serif' >0</text>
<text x="263.55" y="274.85" font-size="4.6" font-weight="normal" text-anchor="middle" fill="#2a2a2a" font-family='"Liberation Sans", sans-serif' >10</text>
<text x="287.55" y="274.85" font-size="4.6" font-weight="normal" text-anchor="middle" fill="#2a2a2a" font-family='"Liberation Sans", sans-serif' >0</text>
<text x="309.75" y="274.85" font-size="4.6" font-weight="normal" text-anchor="middle" fill="#2a2a2a" font-family='"Liberation Sans", sans-serif' >0</text>
<text x="328.80" y="274.85" font-size="4.6" font-weight="normal" text-anchor="middle" fill="#2a2a2a" font-family='"Liberation Sans", sans-serif' >0</text>
<text x="347.35" y="274.85" font-size="4.6" font-weight="normal" text-anchor="middle" fill="#2a2a2a" font-family='"Liberation Sans", sans-serif' >0</text>
<text x="369.55" y="274.85" font-size="4.6" font-weight="normal" text-anchor="middle" fill="#2a2a2a" font-family='"Liberation Sans", sans-serif' >0</text>
<text x="392.90" y="274.85" font-size="4.6" font-weight="normal" text-anchor="middle" fill="#2a2a2a" font-family='"Liberation Sans", sans-serif' >0</text>
<text x="416.15" y="274.85" font-size="4.6" font-weight="normal" text-anchor="middle" fill="#2a2a2a" font-family='"Liberation Sans", sans-serif' >0</text>
<text x="439.40" y="274.85" font-size="4.6" font-weight="normal" text-anchor="middle" fill="#2a2a2a" font-family='"Liberation Sans", sans-serif' >0</text>
<text x="461.90" y="274.85" font-size="4.6" font-weight="normal" text-anchor="middle" fill="#2a2a2a" font-family='"Liberation Sans", sans-serif' >0</text>
<text x="484.25" y="274.85" font-size="4.6" font-weight="normal" text-anchor="middle" fill="#2a2a2a" font-family='"Liberation Sans", sans-serif' >0</text>
<text x="507.40" y="274.85" font-size="4.6" font-weight="normal" text-anchor="middle" fill="#2a2a2a" font-family='"Liberation Sans", sans-serif' >0</text>
<text x="84.30" y="289.50" font-size="5.3" font-weight="bold" text-anchor="middle" fill="#1a1a1a" font-family='"Liberation Sans", sans-serif' >Total Number Studied</text>
<text x="136.35" y="300.29" font-size="5.0" font-weight="normal" text-anchor="middle" fill="#222" font-family='"Liberation Sans", sans-serif' >25</text>
<text x="161.80" y="300.29" font-size="5.0" font-weight="normal" text-anchor="middle" fill="#222" font-family='"Liberation Sans", sans-serif' >48</text>
<text x="187.20" y="300.29" font-size="5.0" font-weight="normal" text-anchor="middle" fill="#222" font-family='"Liberation Sans", sans-serif' >16</text>
<text x="212.80" y="300.29" font-size="5.0" font-weight="normal" text-anchor="middle" fill="#222" font-family='"Liberation Sans", sans-serif' >31</text>
<text x="238.20" y="300.29" font-size="5.0" font-weight="normal" text-anchor="middle" fill="#222" font-family='"Liberation Sans", sans-serif' >36</text>
<text x="263.55" y="300.29" font-size="5.0" font-weight="normal" text-anchor="middle" fill="#222" font-family='"Liberation Sans", sans-serif' >0</text>
<text x="287.55" y="300.29" font-size="5.0" font-weight="normal" text-anchor="middle" fill="#222" font-family='"Liberation Sans", sans-serif' >41</text>
<text x="309.75" y="300.29" font-size="5.0" font-weight="normal" text-anchor="middle" fill="#222" font-family='"Liberation Sans", sans-serif' >44</text>
<text x="328.80" y="300.29" font-size="5.0" font-weight="normal" text-anchor="middle" fill="#222" font-family='"Liberation Sans", sans-serif' >0</text>
<text x="347.35" y="300.29" font-size="5.0" font-weight="normal" text-anchor="middle" fill="#222" font-family='"Liberation Sans", sans-serif' >64</text>
<text x="369.55" y="300.29" font-size="5.0" font-weight="normal" text-anchor="middle" fill="#222" font-family='"Liberation Sans", sans-serif' >16</text>
<text x="392.90" y="300.29" font-size="5.0" font-weight="normal" text-anchor="middle" fill="#222" font-family='"Liberation Sans", sans-serif' >16</text>
<text x="416.15" y="300.29" font-size="5.0" font-weight="normal" text-anchor="middle" fill="#222" font-family='"Liberation Sans", sans-serif' >64</text>
<text x="439.40" y="300.29" font-size="5.0" font-weight="normal" text-anchor="middle" fill="#222" font-family='"Liberation Sans", sans-serif' >64</text>
<text x="461.90" y="300.29" font-size="5.0" font-weight="normal" text-anchor="middle" fill="#222" font-family='"Liberation Sans", sans-serif' >0</text>
<text x="484.25" y="300.29" font-size="5.0" font-weight="normal" text-anchor="middle" fill="#222" font-family='"Liberation Sans", sans-serif' >37</text>
<text x="507.40" y="300.29" font-size="5.0" font-weight="normal" text-anchor="middle" fill="#222" font-family='"Liberation Sans", sans-serif' >35</text>
<text x="84.30" y="307.30" font-size="5.3" font-weight="bold" text-anchor="middle" fill="#1a1a1a" font-family='"Liberation Sans", sans-serif' >Number  Methylated</text>
<text x="136.35" y="314.29" font-size="5.0" font-weight="normal" text-anchor="middle" fill="#222" font-family='"Liberation Sans", sans-serif' >24</text>
<text x="161.80" y="314.29" font-size="5.0" font-weight="normal" text-anchor="middle" fill="#222" font-family='"Liberation Sans", sans-serif' >21</text>
<text x="187.20" y="314.29" font-size="5.0" font-weight="normal" text-anchor="middle" fill="#222" font-family='"Liberation Sans", sans-serif' >11</text>
<text x="212.80" y="314.29" font-size="5.0" font-weight="normal" text-anchor="middle" fill="#222" font-family='"Liberation Sans", sans-serif' >23</text>
<text x="238.20" y="314.29" font-size="5.0" font-weight="normal" text-anchor="middle" fill="#222" font-family='"Liberation Sans", sans-serif' >13</text>
<text x="263.55" y="314.29" font-size="5.0" font-weight="normal" text-anchor="middle" fill="#222" font-family='"Liberation Sans", sans-serif' >0</text>
<text x="287.55" y="314.29" font-size="5.0" font-weight="normal" text-anchor="middle" fill="#222" font-family='"Liberation Sans", sans-serif' >16</text>
<text x="309.75" y="314.29" font-size="5.0" font-weight="normal" text-anchor="middle" fill="#222" font-family='"Liberation Sans", sans-serif' >8</text>
<text x="328.80" y="314.29" font-size="5.0" font-weight="normal" text-anchor="middle" fill="#222" font-family='"Liberation Sans", sans-serif' >0</text>
<text x="347.35" y="314.29" font-size="5.0" font-weight="normal" text-anchor="middle" fill="#222" font-family='"Liberation Sans", sans-serif' >34</text>
<text x="369.55" y="314.29" font-size="5.0" font-weight="normal" text-anchor="middle" fill="#222" font-family='"Liberation Sans", sans-serif' >11</text>
<text x="392.90" y="314.29" font-size="5.0" font-weight="normal" text-anchor="middle" fill="#222" font-family='"Liberation Sans", sans-serif' >5</text>
<text x="416.15" y="314.29" font-size="5.0" font-weight="normal" text-anchor="middle" fill="#222" font-family='"Liberation Sans", sans-serif' >36</text>
<text x="439.40" y="314.29" font-size="5.0" font-weight="normal" text-anchor="middle" fill="#222" font-family='"Liberation Sans", sans-serif' >22</text>
<text x="461.90" y="314.29" font-size="5.0" font-weight="normal" text-anchor="middle" fill="#222" font-family='"Liberation Sans", sans-serif' >0</text>
<text x="484.25" y="314.29" font-size="5.0" font-weight="normal" text-anchor="middle" fill="#222" font-family='"Liberation Sans", sans-serif' >16</text>
<text x="507.40" y="314.29" font-size="5.0" font-weight="normal" text-anchor="middle" fill="#222" font-family='"Liberation Sans", sans-serif' >20</text>
<text x="84.30" y="321.30" font-size="5.3" font-weight="bold" text-anchor="middle" fill="#1a1a1a" font-family='"Liberation Sans", sans-serif' >Methylation density(%)</text>
<text x="136.35" y="329.29" font-size="5.0" font-weight="normal" text-anchor="middle" fill="#222" font-family='"Liberation Sans", sans-serif' >16-89</text>
<text x="161.80" y="329.29" font-size="5.0" font-weight="normal" text-anchor="middle" fill="#222" font-family='"Liberation Sans", sans-serif' >15-72</text>
<text x="187.20" y="329.29" font-size="5.0" font-weight="normal" text-anchor="middle" fill="#222" font-family='"Liberation Sans", sans-serif' >32-78</text>
<text x="212.80" y="329.29" font-size="5.0" font-weight="normal" text-anchor="middle" fill="#222" font-family='"Liberation Sans", sans-serif' >15-90</text>
<text x="238.20" y="329.29" font-size="5.0" font-weight="normal" text-anchor="middle" fill="#222" font-family='"Liberation Sans", sans-serif' >31-72</text>
<text x="263.55" y="329.29" font-size="5.0" font-weight="normal" text-anchor="middle" fill="#222" font-family='"Liberation Sans", sans-serif' >0</text>
<text x="287.55" y="329.29" font-size="5.0" font-weight="normal" text-anchor="middle" fill="#222" font-family='"Liberation Sans", sans-serif' >15-61</text>
<text x="309.75" y="329.29" font-size="5.0" font-weight="normal" text-anchor="middle" fill="#222" font-family='"Liberation Sans", sans-serif' >16-98</text>
<text x="328.80" y="329.29" font-size="5.0" font-weight="normal" text-anchor="middle" fill="#222" font-family='"Liberation Sans", sans-serif' >0</text>
<text x="347.35" y="329.29" font-size="5.0" font-weight="normal" text-anchor="middle" fill="#222" font-family='"Liberation Sans", sans-serif' >15-66</text>
<text x="369.55" y="329.29" font-size="5.0" font-weight="normal" text-anchor="middle" fill="#222" font-family='"Liberation Sans", sans-serif' >18-60</text>
<text x="392.90" y="329.29" font-size="5.0" font-weight="normal" text-anchor="middle" fill="#222" font-family='"Liberation Sans", sans-serif' >22-68</text>
<text x="416.15" y="329.29" font-size="5.0" font-weight="normal" text-anchor="middle" fill="#222" font-family='"Liberation Sans", sans-serif' >15-98</text>
<text x="439.40" y="329.29" font-size="5.0" font-weight="normal" text-anchor="middle" fill="#222" font-family='"Liberation Sans", sans-serif' >10.5-43</text>
<text x="461.90" y="329.29" font-size="5.0" font-weight="normal" text-anchor="middle" fill="#222" font-family='"Liberation Sans", sans-serif' >0</text>
<text x="484.25" y="329.29" font-size="5.0" font-weight="normal" text-anchor="middle" fill="#222" font-family='"Liberation Sans", sans-serif' >26-60</text>
<text x="507.40" y="329.29" font-size="5.0" font-weight="normal" text-anchor="middle" fill="#222" font-family='"Liberation Sans", sans-serif' >10.6-64</text>
<text x="84.30" y="336.30" font-size="5.3" font-weight="bold" text-anchor="middle" fill="#1a1a1a" font-family='"Liberation Sans", sans-serif' >Mean methylation(%)</text>
<text x="136.35" y="344.59" font-size="5.0" font-weight="normal" text-anchor="middle" fill="#222" font-family='"Liberation Sans", sans-serif' >37.3</text>
<text x="161.80" y="344.59" font-size="5.0" font-weight="normal" text-anchor="middle" fill="#222" font-family='"Liberation Sans", sans-serif' >32.4</text>
<text x="187.20" y="344.59" font-size="5.0" font-weight="normal" text-anchor="middle" fill="#222" font-family='"Liberation Sans", sans-serif' >55.5</text>
<text x="212.80" y="344.59" font-size="5.0" font-weight="normal" text-anchor="middle" fill="#222" font-family='"Liberation Sans", sans-serif' >53.8</text>
<text x="238.20" y="344.59" font-size="5.0" font-weight="normal" text-anchor="middle" fill="#222" font-family='"Liberation Sans", sans-serif' >52.5</text>
<text x="263.55" y="344.59" font-size="5.0" font-weight="normal" text-anchor="middle" fill="#222" font-family='"Liberation Sans", sans-serif' >0</text>
<text x="287.55" y="344.59" font-size="5.0" font-weight="normal" text-anchor="middle" fill="#222" font-family='"Liberation Sans", sans-serif' >22.2</text>
<text x="309.75" y="344.59" font-size="5.0" font-weight="normal" text-anchor="middle" fill="#222" font-family='"Liberation Sans", sans-serif' >52.3</text>
<text x="328.80" y="344.59" font-size="5.0" font-weight="normal" text-anchor="middle" fill="#222" font-family='"Liberation Sans", sans-serif' >0</text>
<text x="347.35" y="344.59" font-size="5.0" font-weight="normal" text-anchor="middle" fill="#222" font-family='"Liberation Sans", sans-serif' >34.6</text>
<text x="369.55" y="344.59" font-size="5.0" font-weight="normal" text-anchor="middle" fill="#222" font-family='"Liberation Sans", sans-serif' >35.9</text>
<text x="392.90" y="344.59" font-size="5.0" font-weight="normal" text-anchor="middle" fill="#222" font-family='"Liberation Sans", sans-serif' >37.5</text>
<text x="416.15" y="344.59" font-size="5.0" font-weight="normal" text-anchor="middle" fill="#222" font-family='"Liberation Sans", sans-serif' >47.4</text>
<text x="439.40" y="344.59" font-size="5.0" font-weight="normal" text-anchor="middle" fill="#222" font-family='"Liberation Sans", sans-serif' >20.4</text>
<text x="461.90" y="344.59" font-size="5.0" font-weight="normal" text-anchor="middle" fill="#222" font-family='"Liberation Sans", sans-serif' >0</text>
<text x="484.25" y="344.59" font-size="5.0" font-weight="normal" text-anchor="middle" fill="#222" font-family='"Liberation Sans", sans-serif' >40.8</text>
<text x="507.40" y="344.59" font-size="5.0" font-weight="normal" text-anchor="middle" fill="#222" font-family='"Liberation Sans", sans-serif' >23.7</text>
<text x="84.30" y="351.60" font-size="5.3" font-weight="bold" text-anchor="middle" fill="#1a1a1a" font-family='"Liberation Sans", sans-serif' >Methylation Prevalence(%)</text>
<text x="136.35" y="359.59" font-size="5.0" font-weight="normal" text-anchor="middle" fill="#222" font-family='"Liberation Sans", sans-serif' >96</text>
<text x="161.80" y="359.59" font-size="5.0" font-weight="normal" text-anchor="middle" fill="#222" font-family='"Liberation Sans", sans-serif' >44</text>
<text x="187.20" y="359.59" font-size="5.0" font-weight="normal" text-anchor="middle" fill="#222" font-family='"Liberation Sans", sans-serif' >69</text>
<text x="212.80" y="359.59" font-size="5.0" font-weight="normal" text-anchor="middle" fill="#222" font-family='"Liberation Sans", sans-serif' >74</text>
<text x="238.20" y="359.59" font-size="5.0" font-weight="normal" text-anchor="middle" fill="#222" font-family='"Liberation Sans", sans-serif' >33</text>
<text x="263.55" y="359.59" font-size="5.0" font-weight="normal" text-anchor="middle" fill="#222" font-family='"Liberation Sans", sans-serif' >0</text>
<text x="287.55" y="359.59" font-size="5.0" font-weight="normal" text-anchor="middle" fill="#222" font-family='"Liberation Sans", sans-serif' >39</text>
<text x="309.75" y="359.59" font-size="5.0" font-weight="normal" text-anchor="middle" fill="#222" font-family='"Liberation Sans", sans-serif' >18</text>
<text x="328.80" y="359.59" font-size="5.0" font-weight="normal" text-anchor="middle" fill="#222" font-family='"Liberation Sans", sans-serif' >0</text>
<text x="347.35" y="359.59" font-size="5.0" font-weight="normal" text-anchor="middle" fill="#222" font-family='"Liberation Sans", sans-serif' >53</text>
<text x="369.55" y="359.59" font-size="5.0" font-weight="normal" text-anchor="middle" fill="#222" font-family='"Liberation Sans", sans-serif' >69</text>
<text x="392.90" y="359.59" font-size="5.0" font-weight="normal" text-anchor="middle" fill="#222" font-family='"Liberation Sans", sans-serif' >31</text>
<text x="416.15" y="359.59" font-size="5.0" font-weight="normal" text-anchor="middle" fill="#222" font-family='"Liberation Sans", sans-serif' >56</text>
<text x="439.40" y="359.59" font-size="5.0" font-weight="normal" text-anchor="middle" fill="#222" font-family='"Liberation Sans", sans-serif' >34</text>
<text x="461.90" y="359.59" font-size="5.0" font-weight="normal" text-anchor="middle" fill="#222" font-family='"Liberation Sans", sans-serif' >0</text>
<text x="484.25" y="359.59" font-size="5.0" font-weight="normal" text-anchor="middle" fill="#222" font-family='"Liberation Sans", sans-serif' >43</text>
<text x="507.40" y="359.59" font-size="5.0" font-weight="normal" text-anchor="middle" fill="#222" font-family='"Liberation Sans", sans-serif' >57</text>
<text x="4.00" y="400.77" font-size="12.2" font-weight="bold" text-anchor="middle" fill="#111" font-family='"Liberation Sans", sans-serif' stroke="#111" stroke-width="0.4">B</text>
<line x1="128.10" y1="390.60" x2="456.00" y2="390.60" stroke="#9a9a9a" stroke-width="1.0"/>
<line x1="456.00" y1="390.60" x2="456.00" y2="476.50" stroke="#9a9a9a" stroke-width="1.0"/>
<defs><pattern id="chk" width="2" height="2" patternUnits="userSpaceOnUse"><rect width="2" height="2" fill="#d8d8d8"/><rect width="1" height="1" fill="#8a8a8a"/><rect x="1" y="1" width="1" height="1" fill="#8a8a8a"/></pattern></defs>
<rect x="130.90" y="404.92" width="4.10" height="71.58" fill="#a6a6a6" stroke="#111" stroke-width="1.1"/>
<line x1="132.95" y1="404.92" x2="132.95" y2="398.32" stroke="#111" stroke-width="1.0"/>
<line x1="129.95" y1="398.32" x2="135.95" y2="398.32" stroke="#111" stroke-width="1.2"/>
<rect x="135.60" y="407.78" width="4.10" height="68.72" fill="url(#chk)" stroke="#111" stroke-width="1.1"/>
<line x1="137.65" y1="407.78" x2="137.65" y2="401.98" stroke="#111" stroke-width="1.0"/>
<line x1="134.65" y1="401.98" x2="140.65" y2="401.98" stroke="#111" stroke-width="1.2"/>
<rect x="150.16" y="434.98" width="4.10" height="41.52" fill="#a6a6a6" stroke="#111" stroke-width="1.1"/>
<line x1="152.21" y1="434.98" x2="152.21" y2="430.68" stroke="#111" stroke-width="1.0"/>
<line x1="149.21" y1="430.68" x2="155.21" y2="430.68" stroke="#111" stroke-width="1.2"/>
<rect x="154.86" y="445.00" width="4.10" height="31.50" fill="url(#chk)" stroke="#111" stroke-width="1.1"/>
<line x1="156.91" y1="445.00" x2="156.91" y2="442.10" stroke="#111" stroke-width="1.0"/>
<line x1="153.91" y1="442.10" x2="159.91" y2="442.10" stroke="#111" stroke-width="1.2"/>
<rect x="169.43" y="410.64" width="4.10" height="65.86" fill="#a6a6a6" stroke="#111" stroke-width="1.1"/>
<line x1="171.48" y1="410.64" x2="171.48" y2="404.44" stroke="#111" stroke-width="1.0"/>
<line x1="168.48" y1="404.44" x2="174.48" y2="404.44" stroke="#111" stroke-width="1.2"/>
<rect x="174.13" y="427.11" width="4.10" height="49.39" fill="url(#chk)" stroke="#111" stroke-width="1.1"/>
<line x1="176.18" y1="427.11" x2="176.18" y2="423.01" stroke="#111" stroke-width="1.0"/>
<line x1="173.18" y1="423.01" x2="179.18" y2="423.01" stroke="#111" stroke-width="1.2"/>
<rect x="188.69" y="410.64" width="4.10" height="65.86" fill="#a6a6a6" stroke="#111" stroke-width="1.1"/>
<line x1="190.74" y1="410.64" x2="190.74" y2="404.44" stroke="#111" stroke-width="1.0"/>
<line x1="187.74" y1="404.44" x2="193.74" y2="404.44" stroke="#111" stroke-width="1.2"/>
<rect x="193.39" y="423.53" width="4.10" height="52.97" fill="url(#chk)" stroke="#111" stroke-width="1.1"/>
<line x1="195.44" y1="423.53" x2="195.44" y2="418.43" stroke="#111" stroke-width="1.0"/>
<line x1="192.44" y1="418.43" x2="198.44" y2="418.43" stroke="#111" stroke-width="1.2"/>
<rect x="207.96" y="417.09" width="4.10" height="59.41" fill="#a6a6a6" stroke="#111" stroke-width="1.1"/>
<line x1="210.01" y1="417.09" x2="210.01" y2="411.49" stroke="#111" stroke-width="1.0"/>
<line x1="207.01" y1="411.49" x2="213.01" y2="411.49" stroke="#111" stroke-width="1.2"/>
<rect x="212.66" y="452.88" width="4.10" height="23.62" fill="url(#chk)" stroke="#111" stroke-width="1.1"/>
<line x1="214.71" y1="452.88" x2="214.71" y2="449.98" stroke="#111" stroke-width="1.0"/>
<line x1="211.71" y1="449.98" x2="217.71" y2="449.98" stroke="#111" stroke-width="1.2"/>
<rect x="227.22" y="404.92" width="4.10" height="71.58" fill="#a6a6a6" stroke="#111" stroke-width="1.1"/>
<line x1="229.27" y1="404.92" x2="229.27" y2="398.72" stroke="#111" stroke-width="1.0"/>
<line x1="226.27" y1="398.72" x2="232.27" y2="398.72" stroke="#111" stroke-width="1.2"/>
<rect x="231.92" y="409.21" width="4.10" height="67.29" fill="url(#chk)" stroke="#111" stroke-width="1.1"/>
<line x1="233.97" y1="409.21" x2="233.97" y2="402.91" stroke="#111" stroke-width="1.0"/>
<line x1="230.97" y1="402.91" x2="236.97" y2="402.91" stroke="#111" stroke-width="1.2"/>
<rect x="236.62" y="469.34" width="4.10" height="7.16" fill="#fbfbf0" stroke="#111" stroke-width="1.1"/>
<rect x="246.49" y="458.60" width="4.10" height="17.90" fill="#a6a6a6" stroke="#111" stroke-width="1.1"/>
<line x1="248.54" y1="458.60" x2="248.54" y2="456.90" stroke="#111" stroke-width="1.0"/>
<line x1="245.54" y1="456.90" x2="251.54" y2="456.90" stroke="#111" stroke-width="1.2"/>
<rect x="251.19" y="448.58" width="4.10" height="27.92" fill="url(#chk)" stroke="#111" stroke-width="1.1"/>
<line x1="253.24" y1="448.58" x2="253.24" y2="446.18" stroke="#111" stroke-width="1.0"/>
<line x1="250.24" y1="446.18" x2="256.24" y2="446.18" stroke="#111" stroke-width="1.2"/>
<rect x="265.75" y="452.88" width="4.10" height="23.62" fill="#a6a6a6" stroke="#111" stroke-width="1.1"/>
<line x1="267.80" y1="452.88" x2="267.80" y2="450.38" stroke="#111" stroke-width="1.0"/>
<line x1="264.80" y1="450.38" x2="270.80" y2="450.38" stroke="#111" stroke-width="1.2"/>
<rect x="270.45" y="463.62" width="4.10" height="12.88" fill="url(#chk)" stroke="#111" stroke-width="1.1"/>
<line x1="272.50" y1="463.62" x2="272.50" y2="462.72" stroke="#111" stroke-width="1.0"/>
<line x1="269.50" y1="462.72" x2="275.50" y2="462.72" stroke="#111" stroke-width="1.2"/>
<rect x="304.28" y="422.81" width="4.10" height="53.69" fill="#a6a6a6" stroke="#111" stroke-width="1.1"/>
<line x1="306.33" y1="422.81" x2="306.33" y2="417.61" stroke="#111" stroke-width="1.0"/>
<line x1="303.33" y1="417.61" x2="309.33" y2="417.61" stroke="#111" stroke-width="1.2"/>
<rect x="308.98" y="438.56" width="4.10" height="37.94" fill="url(#chk)" stroke="#111" stroke-width="1.1"/>
<line x1="311.03" y1="438.56" x2="311.03" y2="435.36" stroke="#111" stroke-width="1.0"/>
<line x1="308.03" y1="435.36" x2="314.03" y2="435.36" stroke="#111" stroke-width="1.2"/>
<rect x="323.55" y="417.09" width="4.10" height="59.41" fill="#a6a6a6" stroke="#111" stroke-width="1.1"/>
<line x1="325.60" y1="417.09" x2="325.60" y2="411.09" stroke="#111" stroke-width="1.0"/>
<line x1="322.60" y1="411.09" x2="328.60" y2="411.09" stroke="#111" stroke-width="1.2"/>
<rect x="328.25" y="427.11" width="4.10" height="49.39" fill="url(#chk)" stroke="#111" stroke-width="1.1"/>
<line x1="330.30" y1="427.11" x2="330.30" y2="422.11" stroke="#111" stroke-width="1.0"/>
<line x1="327.30" y1="422.11" x2="333.30" y2="422.11" stroke="#111" stroke-width="1.2"/>
<rect x="342.81" y="440.71" width="4.10" height="35.79" fill="#a6a6a6" stroke="#111" stroke-width="1.1"/>
<line x1="344.86" y1="440.71" x2="344.86" y2="437.31" stroke="#111" stroke-width="1.0"/>
<line x1="341.86" y1="437.31" x2="347.86" y2="437.31" stroke="#111" stroke-width="1.2"/>
<rect x="347.51" y="454.31" width="4.10" height="22.19" fill="url(#chk)" stroke="#111" stroke-width="1.1"/>
<line x1="349.56" y1="454.31" x2="349.56" y2="451.51" stroke="#111" stroke-width="1.0"/>
<line x1="346.56" y1="451.51" x2="352.56" y2="451.51" stroke="#111" stroke-width="1.2"/>
<rect x="362.08" y="434.98" width="4.10" height="41.52" fill="#a6a6a6" stroke="#111" stroke-width="1.1"/>
<line x1="364.13" y1="434.98" x2="364.13" y2="430.88" stroke="#111" stroke-width="1.0"/>
<line x1="361.13" y1="430.88" x2="367.13" y2="430.88" stroke="#111" stroke-width="1.2"/>
<rect x="366.78" y="436.41" width="4.10" height="40.09" fill="url(#chk)" stroke="#111" stroke-width="1.1"/>
<line x1="368.83" y1="436.41" x2="368.83" y2="433.51" stroke="#111" stroke-width="1.0"/>
<line x1="365.83" y1="433.51" x2="371.83" y2="433.51" stroke="#111" stroke-width="1.2"/>
<rect x="381.34" y="434.98" width="4.10" height="41.52" fill="#a6a6a6" stroke="#111" stroke-width="1.1"/>
<line x1="383.39" y1="434.98" x2="383.39" y2="430.88" stroke="#111" stroke-width="1.0"/>
<line x1="380.39" y1="430.88" x2="386.39" y2="430.88" stroke="#111" stroke-width="1.2"/>
<rect x="386.04" y="452.16" width="4.10" height="24.34" fill="url(#chk)" stroke="#111" stroke-width="1.1"/>
<line x1="388.09" y1="452.16" x2="388.09" y2="449.76" stroke="#111" stroke-width="1.0"/>
<line x1="385.09" y1="449.76" x2="391.09" y2="449.76" stroke="#111" stroke-width="1.2"/>
<rect x="400.61" y="470.77" width="4.10" height="5.73" fill="#a6a6a6" stroke="#111" stroke-width="1.1"/>
<rect x="419.87" y="428.54" width="4.10" height="47.96" fill="#a6a6a6" stroke="#111" stroke-width="1.1"/>
<line x1="421.92" y1="428.54" x2="421.92" y2="427.34" stroke="#111" stroke-width="1.0"/>
<line x1="418.92" y1="427.34" x2="424.92" y2="427.34" stroke="#111" stroke-width="1.2"/>
<rect x="424.57" y="445.72" width="4.10" height="30.78" fill="url(#chk)" stroke="#111" stroke-width="1.1"/>
<line x1="426.62" y1="445.72" x2="426.62" y2="443.12" stroke="#111" stroke-width="1.0"/>
<line x1="423.62" y1="443.12" x2="429.62" y2="443.12" stroke="#111" stroke-width="1.2"/>
<rect x="439.14" y="458.60" width="4.10" height="17.90" fill="#a6a6a6" stroke="#111" stroke-width="1.1"/>
<line x1="441.19" y1="458.60" x2="441.19" y2="456.80" stroke="#111" stroke-width="1.0"/>
<line x1="438.19" y1="456.80" x2="444.19" y2="456.80" stroke="#111" stroke-width="1.2"/>
<rect x="443.84" y="435.70" width="4.10" height="40.80" fill="url(#chk)" stroke="#111" stroke-width="1.1"/>
<line x1="445.89" y1="435.70" x2="445.89" y2="431.40" stroke="#111" stroke-width="1.0"/>
<line x1="442.89" y1="431.40" x2="448.89" y2="431.40" stroke="#111" stroke-width="1.2"/>
<line x1="128.10" y1="390.30" x2="128.10" y2="477.10" stroke="#111" stroke-width="1.5"/>
<line x1="127.40" y1="476.50" x2="456.50" y2="476.50" stroke="#111" stroke-width="1.5"/>
<line x1="124.30" y1="476.50" x2="128.10" y2="476.50" stroke="#111" stroke-width="1.2"/>
<text x="119.70" y="478.05" font-size="6.0" font-weight="bold" text-anchor="end" fill="#1a1a1a" font-family='"Liberation Sans", sans-serif' letter-spacing="2.3" stroke="#1a1a1a" stroke-width="0.25">0.00</text>
<line x1="124.30" y1="462.18" x2="128.10" y2="462.18" stroke="#111" stroke-width="1.2"/>
<text x="119.70" y="463.73" font-size="6.0" font-weight="bold" text-anchor="end" fill="#1a1a1a" font-family='"Liberation Sans", sans-serif' letter-spacing="2.3" stroke="#1a1a1a" stroke-width="0.25">20.00</text>
<line x1="124.30" y1="447.87" x2="128.10" y2="447.87" stroke="#111" stroke-width="1.2"/>
<text x="119.70" y="449.41" font-size="6.0" font-weight="bold" text-anchor="end" fill="#1a1a1a" font-family='"Liberation Sans", sans-serif' letter-spacing="2.3" stroke="#1a1a1a" stroke-width="0.25">40.00</text>
<line x1="124.30" y1="433.55" x2="128.10" y2="433.55" stroke="#111" stroke-width="1.2"/>
<text x="119.70" y="435.10" font-size="6.0" font-weight="bold" text-anchor="end" fill="#1a1a1a" font-family='"Liberation Sans", sans-serif' letter-spacing="2.3" stroke="#1a1a1a" stroke-width="0.25">60.00</text>
<line x1="124.30" y1="419.23" x2="128.10" y2="419.23" stroke="#111" stroke-width="1.2"/>
<text x="119.70" y="420.78" font-size="6.0" font-weight="bold" text-anchor="end" fill="#1a1a1a" font-family='"Liberation Sans", sans-serif' letter-spacing="2.3" stroke="#1a1a1a" stroke-width="0.25">80.00</text>
<line x1="124.30" y1="404.92" x2="128.10" y2="404.92" stroke="#111" stroke-width="1.2"/>
<text x="119.70" y="406.46" font-size="6.0" font-weight="bold" text-anchor="end" fill="#1a1a1a" font-family='"Liberation Sans", sans-serif' letter-spacing="2.3" stroke="#1a1a1a" stroke-width="0.25">100.00</text>
<line x1="124.30" y1="390.60" x2="128.10" y2="390.60" stroke="#111" stroke-width="1.2"/>
<text x="119.70" y="392.15" font-size="6.0" font-weight="bold" text-anchor="end" fill="#1a1a1a" font-family='"Liberation Sans", sans-serif' letter-spacing="2.3" stroke="#1a1a1a" stroke-width="0.25">120.00</text>
<line x1="128.40" y1="476.50" x2="128.40" y2="479.50" stroke="#111" stroke-width="1.1"/>
<line x1="147.66" y1="476.50" x2="147.66" y2="479.50" stroke="#111" stroke-width="1.1"/>
<line x1="166.93" y1="476.50" x2="166.93" y2="479.50" stroke="#111" stroke-width="1.1"/>
<line x1="186.19" y1="476.50" x2="186.19" y2="479.50" stroke="#111" stroke-width="1.1"/>
<line x1="205.46" y1="476.50" x2="205.46" y2="479.50" stroke="#111" stroke-width="1.1"/>
<line x1="224.72" y1="476.50" x2="224.72" y2="479.50" stroke="#111" stroke-width="1.1"/>
<line x1="243.99" y1="476.50" x2="243.99" y2="479.50" stroke="#111" stroke-width="1.1"/>
<line x1="263.25" y1="476.50" x2="263.25" y2="479.50" stroke="#111" stroke-width="1.1"/>
<line x1="282.52" y1="476.50" x2="282.52" y2="479.50" stroke="#111" stroke-width="1.1"/>
<line x1="301.78" y1="476.50" x2="301.78" y2="479.50" stroke="#111" stroke-width="1.1"/>
<line x1="321.05" y1="476.50" x2="321.05" y2="479.50" stroke="#111" stroke-width="1.1"/>
<line x1="340.31" y1="476.50" x2="340.31" y2="479.50" stroke="#111" stroke-width="1.1"/>
<line x1="359.58" y1="476.50" x2="359.58" y2="479.50" stroke="#111" stroke-width="1.1"/>
<line x1="378.84" y1="476.50" x2="378.84" y2="479.50" stroke="#111" stroke-width="1.1"/>
<line x1="398.11" y1="476.50" x2="398.11" y2="479.50" stroke="#111" stroke-width="1.1"/>
<line x1="417.37" y1="476.50" x2="417.37" y2="479.50" stroke="#111" stroke-width="1.1"/>
<line x1="436.64" y1="476.50" x2="436.64" y2="479.50" stroke="#111" stroke-width="1.1"/>
<line x1="455.90" y1="476.50" x2="455.90" y2="479.50" stroke="#111" stroke-width="1.1"/>
<text transform="translate(136.80,481.5) rotate(-90)" x="0" y="0" font-size="6.9" font-weight="bold" text-anchor="end" fill="#1a1a1a" font-family='"Liberation Sans", sans-serif'>EphA2</text>
<text transform="translate(156.06,481.5) rotate(-90)" x="0" y="0" font-size="6.9" font-weight="bold" text-anchor="end" fill="#1a1a1a" font-family='"Liberation Sans", sans-serif'>EphA4</text>
<text transform="translate(175.33,481.5) rotate(-90)" x="0" y="0" font-size="6.9" font-weight="bold" text-anchor="end" fill="#1a1a1a" font-family='"Liberation Sans", sans-serif'>EphA5</text>
<text transform="translate(194.59,481.5) rotate(-90)" x="0" y="0" font-size="6.9" font-weight="bold" text-anchor="end" fill="#1a1a1a" font-family='"Liberation Sans", sans-serif'>EphA6</text>
<text transform="translate(213.86,481.5) rotate(-90)" x="0" y="0" font-size="6.9" font-weight="bold" text-anchor="end" fill="#1a1a1a" font-family='"Liberation Sans", sans-serif'>EphA7</text>
<text transform="translate(233.12,481.5) rotate(-90)" x="0" y="0" font-size="6.9" font-weight="bold" text-anchor="end" fill="#1a1a1a" font-family='"Liberation Sans", sans-serif'>EphA10</text>
<text transform="translate(252.39,481.5) rotate(-90)" x="0" y="0" font-size="6.9" font-weight="bold" text-anchor="end" fill="#1a1a1a" font-family='"Liberation Sans", sans-serif'>E-A1</text>
<text transform="translate(271.65,481.5) rotate(-90)" x="0" y="0" font-size="6.9" font-weight="bold" text-anchor="end" fill="#1a1a1a" font-family='"Liberation Sans", sans-serif'>E-A3</text>
<text transform="translate(290.92,481.5) rotate(-90)" x="0" y="0" font-size="6.9" font-weight="bold" text-anchor="end" fill="#1a1a1a" font-family='"Liberation Sans", sans-serif'>EA4</text>
<text transform="translate(310.18,481.5) rotate(-90)" x="0" y="0" font-size="6.9" font-weight="bold" text-anchor="end" fill="#1a1a1a" font-family='"Liberation Sans", sans-serif'>E-A5</text>
<text transform="translate(329.45,481.5) rotate(-90)" x="0" y="0" font-size="6.9" font-weight="bold" text-anchor="end" fill="#1a1a1a" font-family='"Liberation Sans", sans-serif'>EphB1</text>
<text transform="translate(348.71,481.5) rotate(-90)" x="0" y="0" font-size="6.9" font-weight="bold" text-anchor="end" fill="#1a1a1a" font-family='"Liberation Sans", sans-serif'>EphB2</text>
<text transform="translate(367.98,481.5) rotate(-90)" x="0" y="0" font-size="6.9" font-weight="bold" text-anchor="end" fill="#1a1a1a" font-family='"Liberation Sans", sans-serif'>EphB3</text>
<text transform="translate(387.24,481.5) rotate(-90)" x="0" y="0" font-size="6.9" font-weight="bold" text-anchor="end" fill="#1a1a1a" font-family='"Liberation Sans", sans-serif'>EphB4</text>
<text transform="translate(406.51,481.5) rotate(-90)" x="0" y="0" font-size="6.9" font-weight="bold" text-anchor="end" fill="#1a1a1a" font-family='"Liberation Sans", sans-serif'>EphB6</text>
<text transform="translate(425.77,481.5) rotate(-90)" x="0" y="0" font-size="6.9" font-weight="bold" text-anchor="end" fill="#1a1a1a" font-family='"Liberation Sans", sans-serif'>E-B1</text>
<text transform="translate(445.04,481.5) rotate(-90)" x="0" y="0" font-size="6.9" font-weight="bold" text-anchor="end" fill="#1a1a1a" font-family='"Liberation Sans", sans-serif'>E-B2</text>
<text transform="translate(64.2,429.4) rotate(-90)" font-size="10.8" font-weight="bold" text-anchor="middle" fill="#111" font-family='"Liberation Sans", sans-serif'>Methylation</text>
<text transform="translate(76.6,429.6) rotate(-90)" font-size="10.8" font-weight="bold" text-anchor="middle" fill="#111" font-family='"Liberation Sans", sans-serif'>Prevalence (%)</text>
<rect x="363.3" y="396.50" width="6.4" height="3.6" fill="#a0a0a0" stroke="#111" stroke-width="1.3"/>
<text x="371.80" y="400.35" font-size="6.0" font-weight="normal" text-anchor="start" fill="#1a1a1a" font-family='"Liberation Sans", sans-serif' letter-spacing="1.36" stroke="#1a1a1a" stroke-width="0.12">Leukemia cell lines</text>
<rect x="363.3" y="407.10" width="6.4" height="3.6" fill="url(#chk)" stroke="#111" stroke-width="1.3"/>
<text x="371.80" y="410.95" font-size="6.0" font-weight="normal" text-anchor="start" fill="#1a1a1a" font-family='"Liberation Sans", sans-serif' letter-spacing="2.7" stroke="#1a1a1a" stroke-width="0.12">ALL</text>
<rect x="363.3" y="417.90" width="6.4" height="3.6" fill="#ffffff" stroke="#111" stroke-width="1.3"/>
<text x="371.80" y="421.75" font-size="6.0" font-weight="normal" text-anchor="start" fill="#1a1a1a" font-family='"Liberation Sans", sans-serif' letter-spacing="1.6" stroke="#1a1a1a" stroke-width="0.12">Control</text>
</svg>
</body></html>
